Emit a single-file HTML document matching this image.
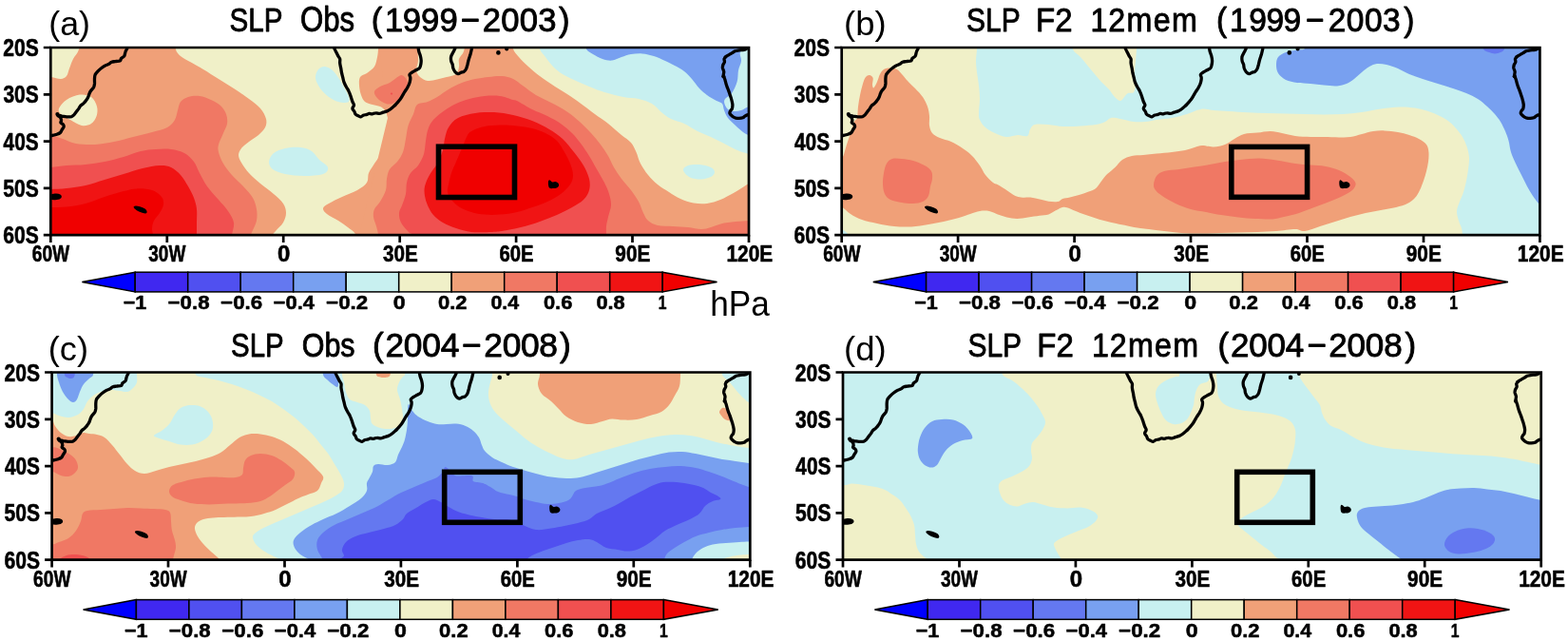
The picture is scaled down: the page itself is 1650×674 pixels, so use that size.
<!DOCTYPE html>
<html lang="en"><head><meta charset="utf-8"><title>SLP anomalies</title>
<style>
html,body{margin:0;padding:0;background:#fff;}
body{width:1650px;height:674px;overflow:hidden;}
svg{display:block;font-family:"Liberation Sans",sans-serif;}
</style></head><body>
<svg width="1650" height="674" viewBox="0 0 1650 674">
<rect width="1650" height="674" fill="#fff"/>
<g id="panel-a">
<clipPath id="clip-a"><rect x="53.3" y="50" width="734.7" height="197.2"/></clipPath>
<g clip-path="url(#clip-a)">
<rect x="53.3" y="50" width="734.7" height="197.2" fill="#f0f0c8"/>
<path fill="#f0a078" d="M185 40C185 42 184.2 48.8 185 52C185.8 55.2 187.5 56.8 190 59C192.5 61.2 196 62.7 200 65C204 67.3 209 70 214 73C219 76 224.7 79.7 230 83C235.3 86.3 240.7 89.5 246 93C251.3 96.5 257.3 100.5 262 104C266.7 107.5 271 110.5 274 114C277 117.5 279.2 121.7 280 125C280.8 128.3 280.3 131.2 279 134C277.7 136.8 274.8 139.5 272 142C269.2 144.5 265 146.7 262 149C259 151.3 255.8 153.7 254 156C252.2 158.3 251 160.5 251 163C251 165.5 252.2 167.8 254 171C255.8 174.2 258.7 178.3 262 182C265.3 185.7 269.7 189.3 274 193C278.3 196.7 284 200.5 288 204C292 207.5 295.8 210.7 298 214C300.2 217.3 301 220.7 301 224C301 227.3 299.8 230.8 298 234C296.2 237.2 291.8 240.8 290 243C288.2 245.2 287.8 244.8 287 247C286.2 249.2 285.3 254.5 285 256L30 270L30 30Z"/>
<path fill="#f0f0c8" d="M83 40C83 42 84 48.3 83 52C82 55.7 78.7 58.7 77 62C75.3 65.3 74.2 69 73 72C71.8 75 71.5 78.2 70 80C68.5 81.8 66.7 82.8 64 83C61.3 83.2 57.6 81.5 53.6 81C49.6 80.5 42.3 80.2 40 80L30 30Z"/>
<path fill="#f0f0c8" d="M62 114C63 111.5 66.3 107.4 70 105C73.7 102.6 79.7 100.1 84 99.6C88.3 99.1 93 99.9 96 102C99 104.1 101.1 108.7 102 112C102.9 115.3 102.6 119 101.6 122C100.6 125 98.6 128.3 96 130C93.4 131.7 89.7 132.7 86 132C82.3 131.3 77.7 128 74 126C70.3 124 66 122 64 120C62 118 61 116.5 62 114Z"/>
<path fill="#f0a078" d="M376 256C375.7 254.3 375.7 248.8 374 246C372.3 243.2 369 241.3 366 239C363 236.7 359.7 234.3 356 232C352.3 229.7 346.7 227.2 344 225C341.3 222.8 339.7 220.8 340 219C340.3 217.2 342.7 216 346 214C349.3 212 355 209.3 360 207C365 204.7 371.7 202.5 376 200C380.3 197.5 384 195 386 192C388 189 386.7 185.3 388 182C389.3 178.7 391.7 175.7 394 172C396.3 168.3 400 164.3 402 160C404 155.7 405.2 150.7 406 146C406.8 141.3 406.7 135.7 407 132C407.3 128.3 408.3 126.7 408 124C407.7 121.3 406.3 118 405 116C403.7 114 402.2 113 400 112C397.8 111 394.7 110.8 392 110C389.3 109.2 386 108.7 384 107C382 105.3 381 102.8 380 100C379 97.2 378.2 93.2 378 90C377.8 86.8 377.7 83.2 379 81C380.3 78.8 383.5 78.8 386 77C388.5 75.2 392.2 72.8 394 70C395.8 67.2 396.3 63.1 397 60C397.7 56.9 397.8 54.9 398 51.6C398.2 48.3 398 41.9 398 40L540 40Z"/>
<path fill="#f0a078" d="M540 40C540 41.9 539 48.3 540 51.6C541 54.9 543.3 56.9 546 60C548.7 63.1 552.3 66.7 556 70C559.7 73.3 563.3 76.5 568 80C572.7 83.5 578.7 87.5 584 91C589.3 94.5 595 97.7 600 101C605 104.3 609.7 107.8 614 111C618.3 114.2 621.7 116.8 626 120C630.3 123.2 635.3 126.3 640 130C644.7 133.7 650 138.7 654 142C658 145.3 661.4 147 664 150C666.6 153 667.8 156.3 669.5 160C671.2 163.7 671.9 168 674 172C676.1 176 679 180.3 682 184C685 187.7 688.3 191 692 194C695.7 197 700 199.5 704 202C708 204.5 711.7 207.1 716 209C720.3 210.9 725.3 212.8 730 213.6C734.7 214.4 739.3 214.6 744 214C748.7 213.4 753.7 211.7 758 210C762.3 208.3 766.3 206 770 204C773.7 202 777 199.8 780 198C783 196.2 784.7 194.7 788 193C791.3 191.3 798 188.8 800 188L800 260L376 256L408 124L398 40Z"/>
<path fill="#f0f0c8" d="M439 40C439.1 42 439.2 48 439.4 52C439.6 56 440.2 60.3 440 64C439.8 67.7 437.7 71.2 438 74C438.3 76.8 440 79.2 442 81C444 82.8 447 84.6 450 85C453 85.4 456.7 84.3 460 83.6C463.3 82.9 466.7 81.9 470 81C473.3 80.1 477.8 79.8 480 78C482.2 76.2 482.5 72.7 483 70C483.5 67.3 482.2 64.7 483 62C483.8 59.3 486.8 57.7 488 54C489.2 50.3 489.7 42.3 490 40Z"/>
<path fill="#f07864" d="M40 140C42.3 140.3 49.3 141 53.6 142C57.9 143 61.6 144.5 66 146C70.4 147.5 74.3 150 80 151C85.7 152 93.3 152.3 100 152C106.7 151.7 113.3 150.3 120 149C126.7 147.7 133.3 145.7 140 144C146.7 142.3 154 140.7 160 139C166 137.3 172 136.2 176 134C180 131.8 182.2 129 184 126C185.8 123 186 119.2 187 116C188 112.8 188.2 109.3 190 107C191.8 104.7 194.7 103 198 102C201.3 101 206 100.5 210 101C214 101.5 218.3 103.3 222 105C225.7 106.7 229.3 108.5 232 111C234.7 113.5 236.8 116.8 238 120C239.2 123.2 239.5 126.7 239 130C238.5 133.3 236.5 136.3 235 140C233.5 143.7 230.8 148.7 230 152C229.2 155.3 229.2 156.7 230 160C230.8 163.3 232.7 168 235 172C237.3 176 240.5 180 244 184C247.5 188 252.3 192 256 196C259.7 200 263.7 204 266 208C268.3 212 269.3 216 270 220C270.7 224 270.7 228.3 270 232C269.3 235.7 267 239.5 266 242C265 244.5 264.7 244.7 264 247C263.3 249.3 262.3 254.5 262 256L30 270Z"/>
<path fill="#f05050" d="M40 177C42.3 176.8 48.6 176.5 53.6 176C58.6 175.5 63.9 174.5 70 174C76.1 173.5 83.3 173.7 90 173C96.7 172.3 103.3 171.3 110 170C116.7 168.7 123.7 166.8 130 165C136.3 163.2 142.3 160.3 148 159C153.7 157.7 158.7 157.3 164 157C169.3 156.7 175 156.3 180 157C185 157.7 190 158.8 194 161C198 163.2 201.3 166.5 204 170C206.7 173.5 207.7 177.7 210 182C212.3 186.3 214.7 191.3 218 196C221.3 200.7 226.3 205.7 230 210C233.7 214.3 237.3 218 240 222C242.7 226 245.3 229.8 246 234C246.7 238.2 244.5 243.3 244 247C243.5 250.7 243.2 254.5 243 256L30 270Z"/>
<path fill="#f01414" d="M40 199.6C42.3 199.5 48.6 199.3 53.6 199C58.6 198.7 63.9 198.7 70 198C76.1 197.3 83.3 196.5 90 195C96.7 193.5 103.3 191 110 189C116.7 187 123.3 185 130 183C136.7 181 143.7 178.5 150 177C156.3 175.5 163 174.2 168 174C173 173.8 176.3 174.3 180 176C183.7 177.7 187 180.7 190 184C193 187.3 195.7 192 198 196C200.3 200 202.5 204 204 208C205.5 212 206.5 215.7 207 220C207.5 224.3 207 229.5 207 234C207 238.5 207 243.3 207 247C207 250.7 207 254.5 207 256L30 270Z"/>
<path fill="#f00000" d="M40 218.4C42.3 218.3 48.6 218.1 53.6 218C58.6 217.9 63.9 218.3 70 217.6C76.1 216.9 83.3 215.8 90 214C96.7 212.2 103.3 209.2 110 207C116.7 204.8 124.3 202.4 130 201C135.7 199.6 139 198.6 144 198.4C149 198.2 155.7 198.6 160 200C164.3 201.4 168 204.5 170 207C172 209.5 172.3 212.2 172 215C171.7 217.8 169.7 221.2 168 224C166.3 226.8 163.3 229.3 162 232C160.7 234.7 160.2 237.5 160 240C159.8 242.5 160.8 244.3 161 247C161.2 249.7 161.3 254.5 161.4 256L30 270Z"/>
<path fill="#f07864" d="M398 256C398 254.5 398.3 250 398 247C397.7 244 396.8 241.2 396 238C395.2 234.8 393.3 231 393 228C392.7 225 392.8 222.7 394 220C395.2 217.3 398 215.3 400 212C402 208.7 404.8 204 406 200C407.2 196 406.3 191.7 407 188C407.7 184.3 408.2 181 410 178C411.8 175 415.7 173 418 170C420.3 167 422.5 164 424 160C425.5 156 426.1 150.7 427 146C427.9 141.3 428.3 136.3 429.6 132C430.9 127.7 433.4 123.7 435 120C436.6 116.3 436.5 112.2 439 110C441.5 107.8 446.5 108.3 450 107C453.5 105.7 456.3 104.2 460 102C463.7 99.8 467.7 96.5 472 94C476.3 91.5 481.3 88.8 486 87C490.7 85.2 495.3 84 500 83C504.7 82 509.3 81.5 514 81C518.7 80.5 523.7 79.7 528 80C532.3 80.3 536.3 81.3 540 83C543.7 84.7 546 87.2 550 90C554 92.8 559 97 564 100C569 103 574.7 105.2 580 108C585.3 110.8 591 113.7 596 117C601 120.3 605.7 124.2 610 128C614.3 131.8 618.3 136 622 140C625.7 144 629 148 632 152C635 156 637.7 160 640 164C642.3 168 643.7 172 646 176C648.3 180 651 184 654 188C657 192 661 196 664 200C667 204 669.8 208 672 212C674.2 216 675.3 220.7 677 224C678.7 227.3 679.5 229.8 682 232C684.5 234.2 687.7 236 692 237C696.3 238 702.7 237.7 708 238C713.3 238.3 719 238.5 724 239C729 239.5 734 241 738 241C742 241 744.3 240 748 239C751.7 238 755.7 236 760 235C764.3 234 769.3 233.5 774 233C778.7 232.5 783.7 232.2 788 232C792.3 231.8 798 231.7 800 231.6L800 260Z"/>
<path fill="#f07864" d="M394 96C394.7 94.2 397.3 92.5 400 91C402.7 89.5 406.7 88.8 410 87C413.3 85.2 417.7 81.2 420 80C422.3 78.8 422.7 78.9 424 79.6C425.3 80.3 427.2 82.1 428 84C428.8 85.9 429.7 88.3 429 91C428.3 93.7 425.8 97.5 424 100C422.2 102.5 420.3 104.4 418 106C415.7 107.6 412.7 109.4 410 109.6C407.3 109.8 404.3 108.3 402 107C399.7 105.7 397.3 103.8 396 102C394.7 100.2 393.3 97.8 394 96Z"/>
<ellipse fill="#f05050" cx="412" cy="98.4" rx="1.2" ry="1" transform="rotate(0 412 98.4)"/>
<path fill="#f05050" d="M434 256C434 254.5 434.7 249 434 247C433.3 245 432 246.2 430 244C428 241.8 423.7 237.3 422 234C420.3 230.7 419.8 227 420 224C420.2 221 421.8 219.3 423 216C424.2 212.7 426.2 208 427 204C427.8 200 427.2 195.7 428 192C428.8 188.3 430 185 432 182C434 179 437.7 177.3 440 174C442.3 170.7 444.7 166.3 446 162C447.3 157.7 447.3 152.3 448 148C448.7 143.7 449.1 139.7 450.4 136C451.7 132.3 453.1 129.3 456 126C458.9 122.7 464 118.8 468 116C472 113.2 475.7 111 480 109C484.3 107 489 105.3 494 104C499 102.7 504.7 101.5 510 101C515.3 100.5 521 100.3 526 101C531 101.7 537 104.2 540 105C543 105.8 540.7 104.3 544 106C547.3 107.7 554.7 112.3 560 115C565.3 117.7 571 119.5 576 122C581 124.5 585.7 127 590 130C594.3 133 598.3 136.3 602 140C605.7 143.7 609 148 612 152C615 156 617.3 159.7 620 164C622.7 168.3 625.3 173.3 628 178C630.7 182.7 633.8 187.7 636 192C638.2 196.3 639.8 200 641 204C642.2 208 643.2 212 643 216C642.8 220 640.8 224.3 640 228C639.2 231.7 638.3 234.8 638 238C637.7 241.2 638 244 638 247C638 250 638 254.5 638 256Z"/>
<path fill="#f01414" d="M468 146C467 150 467.3 153.7 466 158C464.7 162.3 462.3 167.7 460 172C457.7 176.3 454.2 180 452 184C449.8 188 447.8 192.3 447 196C446.2 199.7 446.5 202.7 447 206C447.5 209.3 448.5 212.7 450 216C451.5 219.3 453.3 223 456 226C458.7 229 462 231.7 466 234C470 236.3 475 238.3 480 240C485 241.7 490 243.3 496 244C502 244.7 510.7 244.2 516 244C521.3 243.8 522.7 243.8 528 243C533.3 242.2 541.3 240.7 548 239C554.7 237.3 561.7 235.2 568 233C574.3 230.8 580.3 228.5 586 226C591.7 223.5 597.3 220.7 602 218C606.7 215.3 611 213 614 210C617 207 619 203.7 620 200C621 196.3 621 192.3 620 188C619 183.7 616.7 178.7 614 174C611.3 169.3 607.7 164.7 604 160C600.3 155.3 596.3 150 592 146C587.7 142 583.3 139.2 578 136C572.7 132.8 566.3 129.5 560 127C553.7 124.5 546.7 122.5 540 121C533.3 119.5 526.7 118.3 520 118C513.3 117.7 506.3 118 500 119C493.7 120 486.7 121.5 482 124C477.3 126.5 474.3 130.3 472 134C469.7 137.7 469 142 468 146Z"/>
<path fill="#f00000" d="M492 142C490 145.2 488 151.3 486 156C484 160.7 481.8 165.7 480 170C478.2 174.3 476.3 178 475 182C473.7 186 472.7 190.7 472 194C471.3 197.3 470.5 199.3 471 202C471.5 204.7 472.8 207.3 475 210C477.2 212.7 480.5 215.8 484 218C487.5 220.2 491.7 221.7 496 223C500.3 224.3 505 225.2 510 225.6C515 226 520.3 226 526 225.6C531.7 225.2 538.3 224.3 544 223C549.7 221.7 554.7 219.8 560 218C565.3 216.2 571 214.3 576 212C581 209.7 586 207 590 204C594 201 597.8 197.3 600 194C602.2 190.7 603 187.7 603 184C603 180.3 601.5 176 600 172C598.5 168 596.3 164 594 160C591.7 156 589.3 151.3 586 148C582.7 144.7 578.3 142.2 574 140C569.7 137.8 565 136.3 560 135C555 133.7 549.7 133 544 132.4C538.3 131.8 531.7 131.5 526 131.6C520.3 131.7 514.7 132.1 510 133C505.3 133.9 501 135.5 498 137C495 138.5 494 138.8 492 142Z"/>
<path fill="#c8f0f0" d="M568 40C568 41.9 567 48.3 568 51.6C569 54.9 571.7 56.9 574 60C576.3 63.1 579 67 582 70C585 73 588.3 75.7 592 78C595.7 80.3 599.3 81.8 604 84C608.7 86.2 614.7 88.8 620 91C625.3 93.2 630 95.2 636 97C642 98.8 650 100.8 656 102C662 103.2 667 102.8 672 104C677 105.2 682 106.7 686 109C690 111.3 692.7 115.3 696 118C699.3 120.7 702 123 706 125C710 127 715.3 127.8 720 130C724.7 132.2 729.3 135.7 734 138C738.7 140.3 743 141.7 748 144C753 146.3 759.3 149.7 764 152C768.7 154.3 772 156.3 776 158C780 159.7 784 160.7 788 162C792 163.3 798 165.3 800 166L810 30Z"/>
<path fill="#78a0f0" d="M617 40C617 41.9 615.8 48.8 617 51.6C618.2 54.4 621.2 55.3 624 57C626.8 58.7 630.7 60.9 634 62C637.3 63.1 640.7 63.9 644 63.6C647.3 63.3 650.7 61.1 654 60C657.3 58.9 660.3 57.6 664 57C667.7 56.4 672 56.1 676 56.4C680 56.7 684 57.7 688 59C692 60.3 696.3 62.3 700 64C703.7 65.7 706.7 67.2 710 69C713.3 70.8 717 72.7 720 75C723 77.3 725.3 80 728 83C730.7 86 733.3 90.2 736 93C738.7 95.8 741 97.8 744 100C747 102.2 751.3 104.5 754 106C756.7 107.5 758.7 107.3 760 109C761.3 110.7 761 113.5 762 116C763 118.5 764 121.3 766 124C768 126.7 771.3 129.5 774 132C776.7 134.5 779.7 137.3 782 139C784.3 140.7 785 141.2 788 142C791 142.8 798 143.7 800 144L810 30Z"/>
<path fill="#c8f0f0" d="M800 40C798 41.7 791.5 47.5 788 50C784.5 52.5 780.3 52.7 779 55C777.7 57.3 780.3 60.8 780 64C779.7 67.2 777.7 70.3 777 74C776.3 77.7 776.8 82 775.6 86C774.4 90 772.1 95 770 98C767.9 101 764.3 102.2 763 104C761.7 105.8 761.9 107.2 762.4 109C762.9 110.8 764.4 113.7 766 115C767.6 116.3 769.7 116.8 772 117C774.3 117.2 777.3 116.8 780 116C782.7 115.2 784.7 113 788 112C791.3 111 798 110.3 800 110Z"/>
<path fill="#c8f0f0" d="M332 82C331.7 78.7 333.3 75 335 73C336.7 71 339.5 69.8 342 70C344.5 70.2 347.5 71.8 350 74C352.5 76.2 355 80 357 83C359 86 360.3 88.8 362 92C363.7 95.2 366.3 99.4 367 102C367.7 104.6 367.8 106.8 366 107.6C364.2 108.4 359.3 107.9 356 107C352.7 106.1 349.2 104.3 346 102C342.8 99.7 339.3 96.3 337 93C334.7 89.7 332.3 85.3 332 82Z"/>
<path fill="#c8f0f0" d="M283 170C283.2 167.2 285.2 163.3 288 161C290.8 158.7 295.3 157 300 156C304.7 155 311.3 154.5 316 155C320.7 155.5 324.7 156.8 328 159C331.3 161.2 333.2 165.2 336 168C338.8 170.8 344.3 173.5 345 176C345.7 178.5 344.2 181.5 340 183C335.8 184.5 326.7 185 320 185C313.3 185 305.5 184.2 300 183C294.5 181.8 289.8 180.2 287 178C284.2 175.8 282.8 172.8 283 170Z"/>
<path fill="#c8f0f0" d="M719 179C718.7 176.9 721.2 175 724 174C726.8 173 732 172.7 736 173C740 173.3 745.3 174.7 748 176C750.7 177.3 752 179.3 752 181C752 182.7 750.3 184.8 748 186C745.7 187.2 741.7 188.3 738 188.4C734.3 188.5 729.2 188 726 186.4C722.8 184.8 719.3 181.1 719 179Z"/>
<g transform="translate(0 0)">
<path fill="none" stroke="#000" stroke-width="3.3" stroke-linejoin="round" stroke-linecap="round" d="M134.3 48.8C134.2 49.1 134.3 49.7 133.9 50.7C133.5 51.6 132.5 53.1 132 54.5C131.5 55.8 131.5 57.7 130.8 58.9C130 60 128.3 60.6 127.6 61.4C126.9 62.2 127.3 63.4 126.3 63.9C125.4 64.4 123.4 64.3 121.9 64.5C120.5 64.8 118.8 64.7 117.5 65.2C116.2 65.7 115.5 66.8 114.4 67.4C113.2 68.1 111.8 68.3 110.6 69C109.3 69.6 108 70.5 106.8 71.5C105.6 72.4 104.4 73.5 103.3 74.6C102.2 75.8 100.9 77.1 100.2 78.4C99.6 79.8 99.6 81.3 99.5 82.8C99.4 84.4 99.6 86.4 99.5 87.9C99.3 89.3 99.2 90.5 98.6 91.7C98 92.8 96.8 93.8 96.1 94.8C95.3 95.9 94.7 96.8 94.2 98C93.7 99.1 93.5 100.5 92.9 101.7C92.3 103 91.5 104.4 90.6 105.5C89.8 106.7 88.9 107.7 87.9 108.7C86.9 109.6 85.6 110.3 84.7 111.2C83.9 112.2 83.6 113.3 82.8 114.4C82.1 115.4 81.1 116.5 80.3 117.5C79.5 118.6 78.9 119.8 78 120.7C77.2 121.5 76.6 122.2 75.3 122.6C74 122.9 71.9 123 70.2 122.9C68.5 122.9 66.8 122.4 65.2 122.2C63.6 121.9 61.1 121.1 60.8 121.3C60.4 121.5 62.7 122.4 63.3 123.2C63.9 124.1 64.4 125.4 64.5 126.4C64.7 127.3 63.6 128.2 63.9 128.9C64.2 129.7 65.9 130.1 66.4 130.8C67 131.5 67.3 132.4 67.1 133.3C66.9 134.3 65.8 135.4 65.2 136.5C64.5 137.5 64.3 138.8 63.3 139.6C62.2 140.5 60.3 141 58.9 141.5C57.4 142 55.7 142.3 54.5 142.5C53.2 142.8 51.8 143 51.3 143"/>
<circle cx="60.4" cy="120.1" r="2.1" fill="#000"/>
<path fill="none" stroke="#000" stroke-width="3.3" stroke-linejoin="round" stroke-linecap="round" d="M351.3 48.8C351.5 49.2 351.6 50.3 352 51.3C352.4 52.4 353.2 53.8 353.9 55.1C354.5 56.3 355.1 57.7 355.8 58.9C356.4 60 357.3 60.8 357.7 62C358 63.3 357.5 64.9 357.7 66.4C357.8 68 358.3 69.8 358.7 71.5C359 73.2 359.2 74.8 359.5 76.5C359.9 78.2 360.4 79.9 360.8 81.6C361.2 83.3 361.4 84.9 362.1 86.6C362.7 88.3 363.7 90.1 364.6 91.7C365.4 93.2 366.4 94.5 367.1 96.1C367.8 97.6 368.4 99.3 369 101.1C369.6 102.9 370.3 105.2 370.9 106.8C371.5 108.4 372.5 109.4 372.5 110.6C372.5 111.8 370.8 112.9 370.9 114.1C371 115.3 372.5 116.5 373 117.5C373.6 118.5 373.4 119.3 374 120C374.7 120.8 376.3 121.4 377.2 121.9C378.1 122.4 378.9 123 379.7 122.9C380.6 122.8 381.2 121.7 382.2 121.3C383.3 120.9 385 120.7 386 120.4C387.1 120.1 387.6 119.5 388.5 119.4C389.5 119.3 390.5 119.9 391.7 119.8C392.9 119.7 394.2 118.8 395.5 118.8C396.7 118.7 398 119.5 399.3 119.4C400.5 119.3 401.8 118.5 403.1 118.1C404.3 117.8 405.6 117.7 406.8 117.1C408.1 116.6 409.4 115.9 410.6 115C411.9 114.1 413.2 112.9 414.4 111.8C415.6 110.8 416.5 109.8 417.6 108.7C418.6 107.5 419.8 106.2 420.7 104.9C421.7 103.6 422.4 102.5 423.2 101.1C424.1 99.7 424.9 98.1 425.8 96.7C426.6 95.3 427.5 94.2 428.3 92.9C429 91.7 429.6 90.4 430.2 89.1C430.7 87.9 431.2 86.6 431.4 85.4C431.7 84.1 431.9 82.7 431.8 81.6C431.7 80.4 430.7 79.4 431 78.4C431.4 77.5 432.8 76.7 433.9 75.9C435.1 75.1 436.5 74.5 437.7 73.8C439 73 440.7 72.5 441.5 71.5C442.4 70.5 442.5 69 442.8 67.7C443 66.4 443.2 65.4 443.2 63.9C443.1 62.4 442.8 60.4 442.4 58.9C442 57.3 441.2 55.7 440.9 54.5C440.5 53.2 440.4 52.3 440.3 51.3C440.1 50.4 440 49.2 440 48.8"/>
<path fill="none" stroke="#000" stroke-width="3.3" stroke-linejoin="round" stroke-linecap="round" d="M479.3 48.8C479.2 49.2 479.1 50.3 478.7 51.3C478.3 52.4 477.5 53.7 476.8 55.1C476.1 56.5 475 58 474.7 59.5C474.3 61 474.4 62.5 474.7 63.9C474.9 65.3 475.8 66.4 476.2 67.7C476.5 69 476.4 70.2 476.8 71.5C477.2 72.7 477.9 74.3 478.7 75.3C479.6 76.3 480.8 77.4 481.9 77.5C482.9 77.7 484 76.7 485 76.3C486.1 75.9 487.2 76 488.2 75.3C489.1 74.6 490.1 73.4 490.7 72.1C491.3 70.9 491.5 69.3 492 67.7C492.4 66.1 492.7 64.3 493.2 62.7C493.7 61 494.3 59.5 494.9 57.6C495.4 55.7 496.1 52.8 496.4 51.3C496.7 49.8 496.7 49.2 496.7 48.8"/>
<circle cx="524.4" cy="55.4" r="2.3" fill="#000"/>
<circle cx="533.2" cy="51.6" r="2.0" fill="#000"/>
<path fill="none" stroke="#000" stroke-width="3.3" stroke-linejoin="round" stroke-linecap="round" d="M790.4 50C789.8 50.1 787.9 50.3 786.7 50.7C785.4 51.1 784.3 52 782.9 52.3C781.4 52.7 779.4 52.6 777.8 52.8C776.3 53.1 774.7 53.3 773.4 53.8C772.2 54.3 771.3 55.1 770.3 55.7C769.2 56.3 768.2 57 767.1 57.6C766.1 58.2 764.8 58.8 764 59.5C763.1 60.2 762.3 61.1 762.1 62C761.8 63 762.7 64.1 762.4 65.2C762.2 66.2 761.1 67.3 760.8 68.3C760.5 69.4 760.3 70.3 760.4 71.5C760.6 72.6 761.5 74 761.7 75.3C761.9 76.5 761.2 77.6 761.4 79C761.6 80.5 762.5 82.6 763 84.1C763.4 85.6 763.6 86.6 764 87.9C764.3 89.1 764.8 90.4 765.2 91.7C765.7 92.9 766.3 94.2 766.7 95.4C767.2 96.7 767.6 98 768 99.2C768.4 100.5 768.9 101.7 769.3 103C769.6 104.3 770 105.5 770.3 106.8C770.5 108.1 770.9 109.3 770.9 110.6C770.9 111.8 770.7 113.3 770.3 114.4C769.8 115.4 768.8 116 768.4 116.9C768 117.7 767.7 118.6 768 119.4C768.3 120.2 769.4 121.2 770.3 121.9C771.2 122.7 772.2 123.4 773.4 123.8C774.7 124.2 776.5 124.4 777.8 124.4C779.2 124.4 780.6 124.2 781.6 123.8C782.7 123.4 783.2 122.4 784.1 121.9C785.1 121.4 786.2 121 787.3 120.7C788.3 120.3 789.9 120.1 790.4 120"/>
<circle cx="761.2" cy="80.3" r="2.0" fill="#000"/>
<circle cx="763.3" cy="60.1" r="1.8" fill="#000"/>
<path fill="#000" stroke="#000" stroke-width="1.8" stroke-linejoin="round" d="M141.6 217.6C142 217.2 145.2 217.5 147 218C148.8 218.5 151.3 219.5 152.4 220.4C153.5 221.3 154 223 153.6 223.4C153.2 223.8 151.5 223.3 150 222.8C148.5 222.3 145.8 221.3 144.4 220.4C143 219.5 141.2 218 141.6 217.6Z"/>
<path fill="#000" stroke="#000" stroke-width="1.8" stroke-linejoin="round" d="M53.6 205.6C54.3 204.9 56.4 204.5 58 204.4C59.6 204.3 62.1 204.7 63 205.2C63.9 205.7 64.2 206.9 63.6 207.6C63 208.3 61.3 209 59.6 209.2C57.9 209.4 54.6 209.4 53.6 208.8C52.6 208.2 52.9 206.3 53.6 205.6Z"/>
<path fill="#000" stroke="#000" stroke-width="1.8" stroke-linejoin="round" d="M578 190.4C578.4 189.7 579.8 192.1 581 192.4C582.2 192.7 584 191.7 585 192C586 192.3 587 193.3 587.2 194C587.4 194.7 586.9 195.9 586 196.4C585.1 196.9 583.3 197.2 582 197.2C580.7 197.2 579.1 197.5 578.4 196.4C577.7 195.3 577.6 191.1 578 190.4Z"/>
</g>
<rect x="461.5" y="154.2" width="80" height="53.3" fill="none" stroke="#000" stroke-width="5.6"/>
</g>
<g stroke="#000" stroke-width="2.7" fill="none" stroke-linecap="square">
<path d="M53.3 50H788V247.2H53.3Z"/>
<path stroke-width="2.7" stroke-linecap="butt" d="M45.8 50H53.3M45.8 99.3H53.3M45.8 148.6H53.3M45.8 197.9H53.3M45.8 247.2H53.3M53.3 247.2V255M175.8 247.2V255M298.2 247.2V255M420.7 247.2V255M543.1 247.2V255M665.5 247.2V255M788 247.2V255"/>
</g>
<g stroke="#000" stroke-width="0.6" stroke-linejoin="round">
<text transform="translate(3.16 59.00) scale(0.8446 1.0000)" font-size="25.00" font-weight="bold" fill="#000">20S</text>
<text transform="translate(3.38 108.30) scale(0.8397 1.0000)" font-size="25.00" font-weight="bold" fill="#000">30S</text>
<text transform="translate(3.59 157.60) scale(0.8348 1.0000)" font-size="25.00" font-weight="bold" fill="#000">40S</text>
<text transform="translate(3.27 206.90) scale(0.8421 1.0000)" font-size="25.00" font-weight="bold" fill="#000">50S</text>
<text transform="translate(3.16 256.20) scale(0.8446 1.0000)" font-size="25.00" font-weight="bold" fill="#000">60S</text>
<text transform="translate(33.73 275.20) scale(0.7776 1.0000)" font-size="24.70" font-weight="bold" fill="#000">60W</text>
<text transform="translate(156.27 275.20) scale(0.7698 1.0000)" font-size="24.70" font-weight="bold" fill="#000">30W</text>
<text transform="translate(292.04 275.20) scale(0.9717 1.0000)" font-size="24.70" font-weight="bold" fill="#000">0</text>
<text transform="translate(402.88 275.20) scale(0.8380 1.0000)" font-size="24.70" font-weight="bold" fill="#000">30E</text>
<text transform="translate(525.39 275.20) scale(0.8216 1.0000)" font-size="24.70" font-weight="bold" fill="#000">60E</text>
<text transform="translate(647.37 275.20) scale(0.8430 1.0000)" font-size="24.70" font-weight="bold" fill="#000">90E</text>
<text transform="translate(764.45 275.20) scale(0.8459 1.0000)" font-size="24.70" font-weight="bold" fill="#000">120E</text>
</g>
<g stroke="#000" stroke-width="1.5" stroke-linejoin="miter">
<path fill="#0000ff" d="M142.2 286.2L86.4 296.5L142.2 306.9Z"/>
<rect fill="#4028f0" x="142.2" y="286.2" width="55.5" height="20.7"/>
<rect fill="#5050f0" x="197.7" y="286.2" width="55.5" height="20.7"/>
<rect fill="#6478f0" x="253.2" y="286.2" width="55.5" height="20.7"/>
<rect fill="#78a0f0" x="308.7" y="286.2" width="55.5" height="20.7"/>
<rect fill="#c8f0f0" x="364.2" y="286.2" width="55.5" height="20.7"/>
<rect fill="#f0f0c8" x="419.7" y="286.2" width="55.5" height="20.7"/>
<rect fill="#f0a078" x="475.2" y="286.2" width="55.5" height="20.7"/>
<rect fill="#f07864" x="530.7" y="286.2" width="55.5" height="20.7"/>
<rect fill="#f05050" x="586.2" y="286.2" width="55.5" height="20.7"/>
<rect fill="#f01414" x="641.7" y="286.2" width="55.5" height="20.7"/>
<path fill="#f00000" d="M697.2 286.2L754.5 296.5L697.2 306.9Z"/>
</g>
<g stroke="#000" stroke-width="0.5" stroke-linejoin="round">
<text transform="translate(129.74 325.20) scale(1.0684 1.0000)" font-size="20.20" font-weight="bold" fill="#000">−1</text>
<text transform="translate(176.61 325.20) scale(1.1018 1.0000)" font-size="20.20" font-weight="bold" fill="#000">−0.8</text>
<text transform="translate(232.11 325.20) scale(1.1047 1.0000)" font-size="20.20" font-weight="bold" fill="#000">−0.6</text>
<text transform="translate(287.62 325.20) scale(1.0876 1.0000)" font-size="20.20" font-weight="bold" fill="#000">−0.4</text>
<text transform="translate(343.11 325.20) scale(1.1077 1.0000)" font-size="20.20" font-weight="bold" fill="#000">−0.2</text>
<text transform="translate(413.87 325.20) scale(1.1464 1.0000)" font-size="20.20" font-weight="bold" fill="#000">0</text>
<text transform="translate(460.92 325.20) scale(1.0884 1.0000)" font-size="20.20" font-weight="bold" fill="#000">0.2</text>
<text transform="translate(516.44 325.20) scale(1.0600 1.0000)" font-size="20.20" font-weight="bold" fill="#000">0.4</text>
<text transform="translate(571.92 325.20) scale(1.0842 1.0000)" font-size="20.20" font-weight="bold" fill="#000">0.6</text>
<text transform="translate(627.43 325.20) scale(1.0801 1.0000)" font-size="20.20" font-weight="bold" fill="#000">0.8</text>
<text transform="translate(692.86 325.20) scale(0.7794 1.0000)" font-size="20.20" font-weight="bold" fill="#000">1</text>
</g>
<text transform="translate(51.25 36.60) scale(1.0234 1.0000)" font-size="35.00" font-weight="normal" fill="#000">(a)</text>
<g stroke="#000" stroke-width="0.9" stroke-linejoin="round">
<text transform="translate(0 33.20) scale(0.8233 1)" x="293.3 317.3 337.3" font-size="36.00" font-weight="normal" fill="#000">SLP</text>
<text transform="translate(0 33.20) scale(0.8658 1)" x="364.9 392.9 412.9" font-size="36.00" font-weight="normal" fill="#000">Obs</text>
<text transform="translate(0 33.20) scale(0.9628 1)" x="405.8 420.6 440.2 460.2 480.3 503.6 527.4 547.7 567.9 588.2 610.6" font-size="36.00" font-weight="normal" fill="#000">(1999−2003)</text>
</g>
</g>
<g id="panel-b">
<clipPath id="clip-b"><rect x="885.7" y="50" width="734.7" height="197.2"/></clipPath>
<g clip-path="url(#clip-b)">
<rect x="885.7" y="50" width="734.7" height="197.2" fill="#f0f0c8"/>
<path fill="#c8f0f0" d="M1028 40C1028 42 1028.2 48 1028 52C1027.8 56 1027 60 1027 64C1027 68 1027.5 71.7 1028 76C1028.5 80.3 1029.5 85.3 1030 90C1030.5 94.7 1031 99.3 1031 104C1031 108.7 1030 114.3 1030 118C1030 121.7 1029.8 123.3 1031 126C1032.2 128.7 1034.3 131.7 1037 134C1039.7 136.3 1043.3 138.3 1047 140C1050.7 141.7 1055 143.7 1059 144C1063 144.3 1067.3 142.2 1071 142C1074.7 141.8 1078.8 144 1081 143C1083.2 142 1082.7 138 1084 136C1085.3 134 1085.8 131.8 1089 131C1092.2 130.2 1098 130.7 1103 131C1108 131.3 1113.3 132.8 1119 133C1124.7 133.2 1131.3 132.7 1137 132.4C1142.7 132.1 1148.7 131.7 1153 131C1157.3 130.3 1160.3 129.2 1163 128C1165.7 126.8 1166.3 124.5 1169 124C1171.7 123.5 1175 124.3 1179 125C1183 125.7 1188.7 127.5 1193 128C1197.3 128.5 1201 128.3 1205 128C1209 127.7 1212.3 126.7 1217 126C1221.7 125.3 1227.7 125 1233 124C1238.3 123 1244.3 121.4 1249 120C1253.7 118.6 1258 116.5 1261 115.6C1264 114.7 1264.3 114.3 1267 114.4C1269.7 114.5 1272.7 115.6 1277 116C1281.3 116.4 1287 116.6 1293 117C1299 117.4 1306.3 117.9 1313 118.2C1319.7 118.5 1326.3 118.8 1333 119C1339.7 119.2 1346.3 119.4 1353 119.6C1359.7 119.8 1366.3 119.9 1373 120C1379.7 120.1 1386.3 120.4 1393 120.4C1399.7 120.4 1406.3 120.4 1413 120C1419.7 119.6 1426.3 118.9 1433 118C1439.7 117.1 1446.3 115.3 1453 114.4C1459.7 113.5 1467 112.5 1473 112.4C1479 112.3 1484 112.8 1489 113.6C1494 114.4 1498.7 115.6 1503 117C1507.3 118.4 1511.3 120.2 1515 122C1518.7 123.8 1522 125.7 1525 128C1528 130.3 1530.7 133.3 1533 136C1535.3 138.7 1537.2 141 1539 144C1540.8 147 1542.3 150.3 1543.5 154C1544.7 157.7 1545.8 162 1546 166C1546.2 170 1545.5 174 1545 178C1544.5 182 1543.8 186 1543 190C1542.2 194 1541.2 198.3 1540 202C1538.8 205.7 1537.2 208.7 1536 212C1534.8 215.3 1533.2 218.7 1533 222C1532.8 225.3 1534.2 229 1535 232C1535.8 235 1537.3 237.5 1538 240C1538.7 242.5 1538.7 244.3 1539 247C1539.3 249.7 1539.8 254.5 1540 256L1650 270L1650 30Z"/>
<path fill="#f0f0c8" d="M1129 40C1129 42 1127.7 48.7 1129 52C1130.3 55.3 1134 56.7 1137 60C1140 63.3 1143.7 68 1147 72C1150.3 76 1153.7 80.3 1157 84C1160.3 87.7 1164.3 91 1167 94C1169.7 97 1171 100 1173 102C1175 104 1177.3 106 1179 106C1180.7 106 1181.7 103.3 1183 102C1184.3 100.7 1185.3 98.8 1187 98C1188.7 97.2 1191.7 98.7 1193 97C1194.3 95.3 1194.8 91.5 1195 88C1195.2 84.5 1194 80 1194 76C1194 72 1194.7 68 1195 64C1195.3 60 1195.8 56 1196 52C1196.2 48 1196 42 1196 40Z"/>
<path fill="#78a0f0" d="M1373 40C1373 41.8 1374.3 48.9 1373 51C1371.7 53.1 1368.3 51.7 1365 52.4C1361.7 53.1 1356.3 53.7 1353 55C1349.7 56.3 1346.7 57.8 1345 60C1343.3 62.2 1343 65.2 1343 68C1343 70.8 1343.3 74.3 1345 77C1346.7 79.7 1349.7 82.3 1353 84C1356.3 85.7 1360.7 86.3 1365 87C1369.3 87.7 1374.3 87.6 1379 88C1383.7 88.4 1388.3 89.2 1393 89.6C1397.7 90 1403 90.7 1407 90.4C1411 90.1 1414 89.2 1417 88C1420 86.8 1422.3 85 1425 83C1427.7 81 1430.3 78.2 1433 76C1435.7 73.8 1438.3 71.5 1441 70C1443.7 68.5 1446 67.3 1449 67C1452 66.7 1455.3 67.2 1459 68C1462.7 68.8 1467 70.3 1471 72C1475 73.7 1478.7 76.2 1483 78C1487.3 79.8 1492 81.3 1497 83C1502 84.7 1507.7 86.3 1513 88C1518.3 89.7 1524 91.3 1529 93C1534 94.7 1538.7 96.2 1543 98C1547.3 99.8 1551.3 101.7 1555 104C1558.7 106.3 1562 109.3 1565 112C1568 114.7 1570.7 117.3 1573 120C1575.3 122.7 1577.2 125 1579 128C1580.8 131 1582.6 134.7 1584 138C1585.4 141.3 1586.5 144.3 1587.5 148C1588.5 151.7 1588.8 156 1590 160C1591.2 164 1593.2 168 1595 172C1596.8 176 1599 180 1601 184C1603 188 1605 192.3 1607 196C1609 199.7 1611 203 1613 206C1615 209 1617.7 212.3 1619 214C1620.3 215.7 1618.7 215 1621 216C1623.3 217 1631 219.3 1633 220L1650 30Z"/>
<path fill="#6478f0" d="M1561 40C1561 41.9 1560 49.1 1561 51.6C1562 54.1 1565 54.2 1567 55C1569 55.8 1571 56.4 1573 56.4C1575 56.4 1577.3 55.8 1579 55C1580.7 54.2 1582.3 54.1 1583 51.6C1583.7 49.1 1583 41.9 1583 40Z"/>
<path fill="#f0a078" d="M885 167C885.4 166.5 886.4 166.5 887.4 164C888.4 161.5 889.7 156 891 152C892.3 148 893.7 144 895 140C896.3 136 897.8 130.7 899 128C900.2 125.3 901.3 126.7 902 124C902.7 121.3 902.5 116 903 112C903.5 108 904.2 104 905 100C905.8 96 907 91.2 908 88C909 84.8 909.8 82.5 911 81C912.2 79.5 913.7 78.8 915 79C916.3 79.2 918.1 80.3 918.6 82C919.1 83.7 917.9 87.3 918 89C918.1 90.7 918.6 92.9 919.4 92.4C920.2 91.9 921.9 88.4 923 86C924.1 83.6 924.8 80.2 926 78C927.2 75.8 928.2 74.1 930 73C931.8 71.9 934.7 71.6 937 71.6C939.3 71.6 942 71.9 944 73C946 74.1 947.2 76 949 78C950.8 80 952.7 82.5 955 85C957.3 87.5 960.3 90.2 963 93C965.7 95.8 968.8 98.8 971 102C973.2 105.2 974.8 108.7 976 112C977.2 115.3 977.7 118.7 978 122C978.3 125.3 977.5 129 978 132C978.5 135 979.2 137.8 981 140C982.8 142.2 985.7 143.5 989 145C992.3 146.5 997 147.2 1001 149C1005 150.8 1009.3 153.5 1013 156C1016.7 158.5 1020 161 1023 164C1026 167 1028.7 170.7 1031 174C1033.3 177.3 1034.7 181 1037 184C1039.3 187 1042.8 190.3 1045 192C1047.2 193.7 1047.4 192.9 1050 194.3C1052.6 195.8 1057.1 198.7 1060.7 200.9C1064.2 203 1067.2 205.9 1071.4 207C1075.5 208.2 1081.6 207.3 1085.6 207.7C1089.6 208.2 1092.1 209.1 1095.1 209.8C1098.1 210.4 1100.4 211.4 1103.4 211.8C1106.4 212.2 1110.4 212.6 1112.9 212.1C1115.4 211.7 1116.1 209.7 1118.2 208.9C1120.4 208.1 1123.1 208 1125.9 207.4C1128.8 206.7 1132.3 205.9 1135.4 205C1138.6 204.1 1142 203 1144.9 201.8C1147.9 200.6 1150.9 199.8 1153.2 197.9C1155.6 195.9 1157.2 192.6 1159.2 190.2C1161.2 187.7 1162.7 185.4 1165.1 183.1C1167.5 180.7 1170.8 178.4 1173.4 175.9C1176.1 173.4 1178.1 170 1181 168C1183.9 166 1187.3 164.8 1191 164C1194.7 163.2 1198.7 163.4 1203 163C1207.3 162.6 1212 162.1 1217 161.6C1222 161.1 1228 160.6 1233 160C1238 159.4 1243 158.8 1247 158C1251 157.2 1254 155.8 1257 155C1260 154.2 1261.7 153.1 1265 153C1268.3 152.9 1273 154.6 1277 154.4C1281 154.2 1285.3 153.4 1289 152C1292.7 150.6 1295.7 147.8 1299 146C1302.3 144.2 1305 142.1 1309 141C1313 139.9 1318.3 140.1 1323 139.6C1327.7 139.1 1332.7 137.9 1337 138C1341.3 138.1 1344.7 139.2 1349 140C1353.3 140.8 1358 142.3 1363 143C1368 143.7 1374 143.8 1379 144C1384 144.2 1388 143.9 1393 144C1398 144.1 1404.3 144.4 1409 144.4C1413.7 144.4 1417 144.6 1421 144C1425 143.4 1429 142 1433 141C1437 140 1441 138.6 1445 138C1449 137.4 1452.7 137.2 1457 137.4C1461.3 137.6 1466.7 138.2 1471 139C1475.3 139.8 1479.3 140.8 1483 142C1486.7 143.2 1490 144.3 1493 146C1496 147.7 1499.3 149.7 1501 152C1502.7 154.3 1503.1 157 1503.4 160C1503.7 163 1503.4 166.7 1503 170C1502.6 173.3 1501.8 176.7 1501 180C1500.2 183.3 1499.2 186.7 1498 190C1496.8 193.3 1495.5 197 1494 200C1492.5 203 1491.2 205.7 1489 208C1486.8 210.3 1484.3 212.3 1481 214C1477.7 215.7 1473.7 216.8 1469 218C1464.3 219.2 1458.3 220 1453 221C1447.7 222 1442.3 222.8 1437 224C1431.7 225.2 1426.3 226.5 1421 228C1415.7 229.5 1410.3 231.3 1405 233C1399.7 234.7 1394.3 236.3 1389 238C1383.7 239.7 1377.3 242.5 1373 243C1368.7 243.5 1368 241 1363 241C1358 241 1349.7 242.5 1343 243C1336.3 243.5 1329.7 243.8 1323 244C1316.3 244.2 1309.7 244.2 1303 244.4C1296.3 244.6 1289.7 244.8 1283 245C1276.3 245.2 1269.7 245.6 1263 245.6C1256.3 245.6 1249.3 245.4 1243 245C1236.7 244.6 1230.7 243.7 1225 243C1219.3 242.3 1213.2 241.5 1209 241C1204.8 240.5 1203.7 240.6 1200 240C1196.2 239.4 1190.7 238.2 1186.5 237.4C1182.2 236.6 1178.6 235.9 1174.6 235C1170.6 234.2 1166.7 233.3 1162.7 232.3C1158.8 231.3 1154.8 230 1150.9 228.7C1146.9 227.5 1142.8 226.2 1139 224.8C1135.2 223.4 1131.3 221.6 1128.3 220.4C1125.4 219.3 1123.2 218.4 1121.2 218.1C1119.2 217.7 1118.2 217.8 1116.5 218.4C1114.7 219 1112.7 220.4 1110.5 221.6C1108.3 222.8 1106.2 224.7 1103.4 225.5C1100.6 226.4 1097.5 226.2 1093.9 226.7C1090.3 227.2 1086 227.8 1082 228.4C1078.1 228.9 1073.9 229.9 1070.2 229.9C1066.4 229.9 1062.9 229.1 1059.5 228.4C1056.1 227.7 1053.1 226.6 1050 225.5C1046.9 224.5 1044.2 222.6 1041 222C1037.8 221.4 1034.3 221.5 1031 222C1027.7 222.5 1024.7 223.8 1021 225C1017.3 226.2 1013.7 227.7 1009 229C1004.3 230.3 998.3 231.8 993 233C987.7 234.2 982.7 235.1 977 236C971.3 236.9 965 238.1 959 238.4C953 238.7 947 238.6 941 238C935 237.4 928.7 236.2 923 235C917.3 233.8 911.7 232.7 907 231C902.3 229.3 898.4 227.2 895 225C891.6 222.8 888.9 219.8 886.6 218C884.3 216.2 881.9 214.7 881 214Z"/>
<path fill="#f07864" d="M929 194C928.8 190.3 929.3 185.7 930 182C930.7 178.3 931.5 174.5 933 172C934.5 169.5 936.3 167.8 939 167C941.7 166.2 945.3 166.7 949 167C952.7 167.3 957 167.8 961 169C965 170.2 969.8 172.2 973 174C976.2 175.8 978.7 177.7 980 180C981.3 182.3 981.2 185.3 981 188C980.8 190.7 979.7 193 979 196C978.3 199 978.3 203.3 977 206C975.7 208.7 973.7 210.7 971 212C968.3 213.3 964.7 213.8 961 214C957.3 214.2 953 213.7 949 213C945 212.3 940 211.5 937 210C934 208.5 932.3 206.7 931 204C929.7 201.3 929.2 197.7 929 194Z"/>
<path fill="#f07864" d="M1214 194C1214.2 191.5 1215.2 187.3 1217 185C1218.8 182.7 1221 181.2 1225 180C1229 178.8 1235.7 178.7 1241 178C1246.3 177.3 1251.7 176.4 1257 175.6C1262.3 174.8 1267.7 173.9 1273 173C1278.3 172.1 1283.7 170.8 1289 170C1294.3 169.2 1299 168.6 1305 168C1311 167.4 1318.7 166.3 1325 166.4C1331.3 166.5 1336.7 167.5 1343 168.4C1349.3 169.3 1357 171.1 1363 172C1369 172.9 1373.7 173.1 1379 173.6C1384.3 174.1 1390 174.1 1395 175C1400 175.9 1404.7 177.2 1409 179C1413.3 180.8 1418.1 183.7 1421 186C1423.9 188.3 1426.3 190.7 1426.6 193C1426.9 195.3 1425.3 197.8 1423 200C1420.7 202.2 1417 204 1413 206C1409 208 1404 210 1399 212C1394 214 1388.3 216 1383 218C1377.7 220 1372.3 222.3 1367 224C1361.7 225.7 1355.7 226.9 1351 228C1346.3 229.1 1344 230.1 1339 230.4C1334 230.7 1327 230.3 1321 230C1315 229.7 1309 229.1 1303 228.4C1297 227.7 1290.7 226.9 1285 226C1279.3 225.1 1274.3 224 1269 223C1263.7 222 1258.3 221.5 1253 220C1247.7 218.5 1242 216.3 1237 214C1232 211.7 1226.5 208.3 1223 206C1219.5 203.7 1217.5 202 1216 200C1214.5 198 1213.8 196.5 1214 194Z"/>
<path fill="#c8f0f0" d="M885 241C885.7 241.3 887.7 242 889 243C890.3 244 892.2 245.5 893 247C893.8 248.5 893.8 251.2 894 252L880 250Z"/>
<g transform="translate(832.4 0)">
<path fill="none" stroke="#000" stroke-width="3.3" stroke-linejoin="round" stroke-linecap="round" d="M134.3 48.8C134.2 49.1 134.3 49.7 133.9 50.7C133.5 51.6 132.5 53.1 132 54.5C131.5 55.8 131.5 57.7 130.8 58.9C130 60 128.3 60.6 127.6 61.4C126.9 62.2 127.3 63.4 126.3 63.9C125.4 64.4 123.4 64.3 121.9 64.5C120.5 64.8 118.8 64.7 117.5 65.2C116.2 65.7 115.5 66.8 114.4 67.4C113.2 68.1 111.8 68.3 110.6 69C109.3 69.6 108 70.5 106.8 71.5C105.6 72.4 104.4 73.5 103.3 74.6C102.2 75.8 100.9 77.1 100.2 78.4C99.6 79.8 99.6 81.3 99.5 82.8C99.4 84.4 99.6 86.4 99.5 87.9C99.3 89.3 99.2 90.5 98.6 91.7C98 92.8 96.8 93.8 96.1 94.8C95.3 95.9 94.7 96.8 94.2 98C93.7 99.1 93.5 100.5 92.9 101.7C92.3 103 91.5 104.4 90.6 105.5C89.8 106.7 88.9 107.7 87.9 108.7C86.9 109.6 85.6 110.3 84.7 111.2C83.9 112.2 83.6 113.3 82.8 114.4C82.1 115.4 81.1 116.5 80.3 117.5C79.5 118.6 78.9 119.8 78 120.7C77.2 121.5 76.6 122.2 75.3 122.6C74 122.9 71.9 123 70.2 122.9C68.5 122.9 66.8 122.4 65.2 122.2C63.6 121.9 61.1 121.1 60.8 121.3C60.4 121.5 62.7 122.4 63.3 123.2C63.9 124.1 64.4 125.4 64.5 126.4C64.7 127.3 63.6 128.2 63.9 128.9C64.2 129.7 65.9 130.1 66.4 130.8C67 131.5 67.3 132.4 67.1 133.3C66.9 134.3 65.8 135.4 65.2 136.5C64.5 137.5 64.3 138.8 63.3 139.6C62.2 140.5 60.3 141 58.9 141.5C57.4 142 55.7 142.3 54.5 142.5C53.2 142.8 51.8 143 51.3 143"/>
<circle cx="60.4" cy="120.1" r="2.1" fill="#000"/>
<path fill="none" stroke="#000" stroke-width="3.3" stroke-linejoin="round" stroke-linecap="round" d="M351.3 48.8C351.5 49.2 351.6 50.3 352 51.3C352.4 52.4 353.2 53.8 353.9 55.1C354.5 56.3 355.1 57.7 355.8 58.9C356.4 60 357.3 60.8 357.7 62C358 63.3 357.5 64.9 357.7 66.4C357.8 68 358.3 69.8 358.7 71.5C359 73.2 359.2 74.8 359.5 76.5C359.9 78.2 360.4 79.9 360.8 81.6C361.2 83.3 361.4 84.9 362.1 86.6C362.7 88.3 363.7 90.1 364.6 91.7C365.4 93.2 366.4 94.5 367.1 96.1C367.8 97.6 368.4 99.3 369 101.1C369.6 102.9 370.3 105.2 370.9 106.8C371.5 108.4 372.5 109.4 372.5 110.6C372.5 111.8 370.8 112.9 370.9 114.1C371 115.3 372.5 116.5 373 117.5C373.6 118.5 373.4 119.3 374 120C374.7 120.8 376.3 121.4 377.2 121.9C378.1 122.4 378.9 123 379.7 122.9C380.6 122.8 381.2 121.7 382.2 121.3C383.3 120.9 385 120.7 386 120.4C387.1 120.1 387.6 119.5 388.5 119.4C389.5 119.3 390.5 119.9 391.7 119.8C392.9 119.7 394.2 118.8 395.5 118.8C396.7 118.7 398 119.5 399.3 119.4C400.5 119.3 401.8 118.5 403.1 118.1C404.3 117.8 405.6 117.7 406.8 117.1C408.1 116.6 409.4 115.9 410.6 115C411.9 114.1 413.2 112.9 414.4 111.8C415.6 110.8 416.5 109.8 417.6 108.7C418.6 107.5 419.8 106.2 420.7 104.9C421.7 103.6 422.4 102.5 423.2 101.1C424.1 99.7 424.9 98.1 425.8 96.7C426.6 95.3 427.5 94.2 428.3 92.9C429 91.7 429.6 90.4 430.2 89.1C430.7 87.9 431.2 86.6 431.4 85.4C431.7 84.1 431.9 82.7 431.8 81.6C431.7 80.4 430.7 79.4 431 78.4C431.4 77.5 432.8 76.7 433.9 75.9C435.1 75.1 436.5 74.5 437.7 73.8C439 73 440.7 72.5 441.5 71.5C442.4 70.5 442.5 69 442.8 67.7C443 66.4 443.2 65.4 443.2 63.9C443.1 62.4 442.8 60.4 442.4 58.9C442 57.3 441.2 55.7 440.9 54.5C440.5 53.2 440.4 52.3 440.3 51.3C440.1 50.4 440 49.2 440 48.8"/>
<path fill="none" stroke="#000" stroke-width="3.3" stroke-linejoin="round" stroke-linecap="round" d="M479.3 48.8C479.2 49.2 479.1 50.3 478.7 51.3C478.3 52.4 477.5 53.7 476.8 55.1C476.1 56.5 475 58 474.7 59.5C474.3 61 474.4 62.5 474.7 63.9C474.9 65.3 475.8 66.4 476.2 67.7C476.5 69 476.4 70.2 476.8 71.5C477.2 72.7 477.9 74.3 478.7 75.3C479.6 76.3 480.8 77.4 481.9 77.5C482.9 77.7 484 76.7 485 76.3C486.1 75.9 487.2 76 488.2 75.3C489.1 74.6 490.1 73.4 490.7 72.1C491.3 70.9 491.5 69.3 492 67.7C492.4 66.1 492.7 64.3 493.2 62.7C493.7 61 494.3 59.5 494.9 57.6C495.4 55.7 496.1 52.8 496.4 51.3C496.7 49.8 496.7 49.2 496.7 48.8"/>
<circle cx="524.4" cy="55.4" r="2.3" fill="#000"/>
<circle cx="533.2" cy="51.6" r="2.0" fill="#000"/>
<path fill="none" stroke="#000" stroke-width="3.3" stroke-linejoin="round" stroke-linecap="round" d="M790.4 50C789.8 50.1 787.9 50.3 786.7 50.7C785.4 51.1 784.3 52 782.9 52.3C781.4 52.7 779.4 52.6 777.8 52.8C776.3 53.1 774.7 53.3 773.4 53.8C772.2 54.3 771.3 55.1 770.3 55.7C769.2 56.3 768.2 57 767.1 57.6C766.1 58.2 764.8 58.8 764 59.5C763.1 60.2 762.3 61.1 762.1 62C761.8 63 762.7 64.1 762.4 65.2C762.2 66.2 761.1 67.3 760.8 68.3C760.5 69.4 760.3 70.3 760.4 71.5C760.6 72.6 761.5 74 761.7 75.3C761.9 76.5 761.2 77.6 761.4 79C761.6 80.5 762.5 82.6 763 84.1C763.4 85.6 763.6 86.6 764 87.9C764.3 89.1 764.8 90.4 765.2 91.7C765.7 92.9 766.3 94.2 766.7 95.4C767.2 96.7 767.6 98 768 99.2C768.4 100.5 768.9 101.7 769.3 103C769.6 104.3 770 105.5 770.3 106.8C770.5 108.1 770.9 109.3 770.9 110.6C770.9 111.8 770.7 113.3 770.3 114.4C769.8 115.4 768.8 116 768.4 116.9C768 117.7 767.7 118.6 768 119.4C768.3 120.2 769.4 121.2 770.3 121.9C771.2 122.7 772.2 123.4 773.4 123.8C774.7 124.2 776.5 124.4 777.8 124.4C779.2 124.4 780.6 124.2 781.6 123.8C782.7 123.4 783.2 122.4 784.1 121.9C785.1 121.4 786.2 121 787.3 120.7C788.3 120.3 789.9 120.1 790.4 120"/>
<circle cx="761.2" cy="80.3" r="2.0" fill="#000"/>
<circle cx="763.3" cy="60.1" r="1.8" fill="#000"/>
<path fill="#000" stroke="#000" stroke-width="1.8" stroke-linejoin="round" d="M141.6 217.6C142 217.2 145.2 217.5 147 218C148.8 218.5 151.3 219.5 152.4 220.4C153.5 221.3 154 223 153.6 223.4C153.2 223.8 151.5 223.3 150 222.8C148.5 222.3 145.8 221.3 144.4 220.4C143 219.5 141.2 218 141.6 217.6Z"/>
<path fill="#000" stroke="#000" stroke-width="1.8" stroke-linejoin="round" d="M53.6 205.6C54.3 204.9 56.4 204.5 58 204.4C59.6 204.3 62.1 204.7 63 205.2C63.9 205.7 64.2 206.9 63.6 207.6C63 208.3 61.3 209 59.6 209.2C57.9 209.4 54.6 209.4 53.6 208.8C52.6 208.2 52.9 206.3 53.6 205.6Z"/>
<path fill="#000" stroke="#000" stroke-width="1.8" stroke-linejoin="round" d="M578 190.4C578.4 189.7 579.8 192.1 581 192.4C582.2 192.7 584 191.7 585 192C586 192.3 587 193.3 587.2 194C587.4 194.7 586.9 195.9 586 196.4C585.1 196.9 583.3 197.2 582 197.2C580.7 197.2 579.1 197.5 578.4 196.4C577.7 195.3 577.6 191.1 578 190.4Z"/>
</g>
<rect x="1295.8" y="154.4" width="79.8" height="52.9" fill="none" stroke="#000" stroke-width="5.6"/>
</g>
<g stroke="#000" stroke-width="2.7" fill="none" stroke-linecap="square">
<path d="M885.7 50H1620.4V247.2H885.7Z"/>
<path stroke-width="2.7" stroke-linecap="butt" d="M878.2 50H885.7M878.2 99.3H885.7M878.2 148.6H885.7M878.2 197.9H885.7M878.2 247.2H885.7M885.7 247.2V255M1008.1 247.2V255M1130.6 247.2V255M1253 247.2V255M1375.5 247.2V255M1498 247.2V255M1620.4 247.2V255"/>
</g>
<g stroke="#000" stroke-width="0.6" stroke-linejoin="round">
<text transform="translate(835.56 59.00) scale(0.8446 1.0000)" font-size="25.00" font-weight="bold" fill="#000">20S</text>
<text transform="translate(835.78 108.30) scale(0.8397 1.0000)" font-size="25.00" font-weight="bold" fill="#000">30S</text>
<text transform="translate(835.99 157.60) scale(0.8348 1.0000)" font-size="25.00" font-weight="bold" fill="#000">40S</text>
<text transform="translate(835.67 206.90) scale(0.8421 1.0000)" font-size="25.00" font-weight="bold" fill="#000">50S</text>
<text transform="translate(835.56 256.20) scale(0.8446 1.0000)" font-size="25.00" font-weight="bold" fill="#000">60S</text>
<text transform="translate(866.13 275.20) scale(0.7776 1.0000)" font-size="24.70" font-weight="bold" fill="#000">60W</text>
<text transform="translate(988.67 275.20) scale(0.7698 1.0000)" font-size="24.70" font-weight="bold" fill="#000">30W</text>
<text transform="translate(1124.44 275.20) scale(0.9717 1.0000)" font-size="24.70" font-weight="bold" fill="#000">0</text>
<text transform="translate(1235.28 275.20) scale(0.8380 1.0000)" font-size="24.70" font-weight="bold" fill="#000">30E</text>
<text transform="translate(1357.79 275.20) scale(0.8216 1.0000)" font-size="24.70" font-weight="bold" fill="#000">60E</text>
<text transform="translate(1479.77 275.20) scale(0.8430 1.0000)" font-size="24.70" font-weight="bold" fill="#000">90E</text>
<text transform="translate(1596.85 275.20) scale(0.8459 1.0000)" font-size="24.70" font-weight="bold" fill="#000">120E</text>
</g>
<g stroke="#000" stroke-width="1.5" stroke-linejoin="miter">
<path fill="#0000ff" d="M974.6 286.2L918.8 296.5L974.6 306.9Z"/>
<rect fill="#4028f0" x="974.6" y="286.2" width="55.5" height="20.7"/>
<rect fill="#5050f0" x="1030.1" y="286.2" width="55.5" height="20.7"/>
<rect fill="#6478f0" x="1085.6" y="286.2" width="55.5" height="20.7"/>
<rect fill="#78a0f0" x="1141.1" y="286.2" width="55.5" height="20.7"/>
<rect fill="#c8f0f0" x="1196.6" y="286.2" width="55.5" height="20.7"/>
<rect fill="#f0f0c8" x="1252.1" y="286.2" width="55.5" height="20.7"/>
<rect fill="#f0a078" x="1307.6" y="286.2" width="55.5" height="20.7"/>
<rect fill="#f07864" x="1363.1" y="286.2" width="55.5" height="20.7"/>
<rect fill="#f05050" x="1418.6" y="286.2" width="55.5" height="20.7"/>
<rect fill="#f01414" x="1474.1" y="286.2" width="55.5" height="20.7"/>
<path fill="#f00000" d="M1529.6 286.2L1586.9 296.5L1529.6 306.9Z"/>
</g>
<g stroke="#000" stroke-width="0.5" stroke-linejoin="round">
<text transform="translate(962.14 325.20) scale(1.0684 1.0000)" font-size="20.20" font-weight="bold" fill="#000">−1</text>
<text transform="translate(1009.01 325.20) scale(1.1018 1.0000)" font-size="20.20" font-weight="bold" fill="#000">−0.8</text>
<text transform="translate(1064.51 325.20) scale(1.1047 1.0000)" font-size="20.20" font-weight="bold" fill="#000">−0.6</text>
<text transform="translate(1120.02 325.20) scale(1.0876 1.0000)" font-size="20.20" font-weight="bold" fill="#000">−0.4</text>
<text transform="translate(1175.51 325.20) scale(1.1077 1.0000)" font-size="20.20" font-weight="bold" fill="#000">−0.2</text>
<text transform="translate(1246.27 325.20) scale(1.1464 1.0000)" font-size="20.20" font-weight="bold" fill="#000">0</text>
<text transform="translate(1293.32 325.20) scale(1.0884 1.0000)" font-size="20.20" font-weight="bold" fill="#000">0.2</text>
<text transform="translate(1348.84 325.20) scale(1.0600 1.0000)" font-size="20.20" font-weight="bold" fill="#000">0.4</text>
<text transform="translate(1404.32 325.20) scale(1.0842 1.0000)" font-size="20.20" font-weight="bold" fill="#000">0.6</text>
<text transform="translate(1459.83 325.20) scale(1.0801 1.0000)" font-size="20.20" font-weight="bold" fill="#000">0.8</text>
<text transform="translate(1525.26 325.20) scale(0.7794 1.0000)" font-size="20.20" font-weight="bold" fill="#000">1</text>
</g>
<text transform="translate(888.01 36.60) scale(1.0442 1.0000)" font-size="35.00" font-weight="normal" fill="#000">(b)</text>
<g stroke="#000" stroke-width="0.9" stroke-linejoin="round">
<text transform="translate(0 32.90) scale(0.8326 1)" x="1221.5 1245.5 1265.5" font-size="36.00" font-weight="normal" fill="#000">SLP</text>
<text transform="translate(0 32.90) scale(0.9152 1)" x="1191.0 1213.0" font-size="36.00" font-weight="normal" fill="#000">F2</text>
<text transform="translate(0 32.90) scale(0.8951 1)" x="1282.0 1303.0 1324.5 1355.9 1377.4" font-size="36.00" font-weight="normal" fill="#000">12mem</text>
<text transform="translate(0 32.90) scale(0.9305 1)" x="1375.5 1390.6 1412.3 1431.9 1451.4 1476.5 1502.1 1522.7 1543.3 1563.8 1587.6" font-size="36.00" font-weight="normal" fill="#000">(1999−2003)</text>
</g>
</g>
<g id="panel-c">
<clipPath id="clip-c"><rect x="54.6" y="391.5" width="734.7" height="197.2"/></clipPath>
<g clip-path="url(#clip-c)">
<rect x="54.6" y="391.5" width="734.7" height="197.2" fill="#c8f0f0"/>
<path fill="#f0f0c8" d="M206 382C206 384 204.3 391.5 206 394C207.7 396.5 212 396 216 397C220 398 225.3 398.8 230 400C234.7 401.2 239.3 402.5 244 404C248.7 405.5 253.3 407.2 258 409C262.7 410.8 267.3 412.8 272 415C276.7 417.2 281.7 419.5 286 422C290.3 424.5 294 427.2 298 430C302 432.8 306.3 436 310 439C313.7 442 316.7 444.8 320 448C323.3 451.2 327 454.7 330 458C333 461.3 335.3 464.7 338 468C340.7 471.3 343.7 474.7 346 478C348.3 481.3 350 484.7 352 488C354 491.3 356.3 494.7 358 498C359.7 501.3 361.7 505 362 508C362.3 511 361.7 513.7 360 516C358.3 518.3 355.3 520 352 522C348.7 524 344.3 526 340 528C335.7 530 330.7 532 326 534C321.3 536 316.7 538 312 540C307.3 542 302.7 544 298 546C293.3 548 288.3 550 284 552C279.7 554 275 556 272 558C269 560 266.5 561.7 266 564C265.5 566.3 267.2 569.5 269 572C270.8 574.5 273.8 576.8 277 579C280.2 581.2 284.5 583.2 288 585C291.5 586.8 295.3 587.8 298 590C300.7 592.2 303 596.7 304 598L30 620L30 370Z"/>
<path fill="#c8f0f0" d="M40 434.4C42.3 434.3 49.9 433.6 53.6 434C57.3 434.4 58.9 436.2 62 437C65.1 437.8 68.7 439.2 72 439C75.3 438.8 79.3 437.5 82 436C84.7 434.5 86.3 432.3 88 430C89.7 427.7 90.3 424.3 92 422C93.7 419.7 95.7 417.7 98 416C100.3 414.3 103 413 106 412C109 411 112.7 410.2 116 410C119.3 409.8 123 410.7 126 411C129 411.3 131.7 412.5 134 412C136.3 411.5 138.3 409.7 140 408C141.7 406.3 143.3 404.3 144 402C144.7 399.7 144 397.3 144 394C144 390.7 144 384 144 382L30 370Z"/>
<path fill="#78a0f0" d="M60 382C60 384 59.7 390.7 60 394C60.3 397.3 61 399 62 402C63 405 64.3 409 66 412C67.7 415 70.2 418.2 72 420C73.8 421.8 75.5 423 77 423C78.5 423 79.8 421.8 81 420C82.2 418.2 82.8 414.7 84 412C85.2 409.3 86.3 406.3 88 404C89.7 401.7 92.3 399.7 94 398C95.7 396.3 97.3 396.7 98 394C98.7 391.3 98 384 98 382Z"/>
<path fill="#6478f0" d="M68 382C68 384 67.5 391.5 68 394C68.5 396.5 69.8 396.3 71 397C72.2 397.7 73.8 398.3 75 398C76.2 397.7 77.8 397.7 78.5 395C79.2 392.3 78.9 384.2 79 382Z"/>
<path fill="#c8f0f0" d="M162 458C162.3 456.7 167.3 455 170 453C172.7 451 175.7 448.8 178 446C180.3 443.2 182 438.8 184 436C186 433.2 187.3 430.7 190 429C192.7 427.3 196.7 426.3 200 426C203.3 425.7 207 426 210 427C213 428 215.8 429.8 218 432C220.2 434.2 222 437 223 440C224 443 224.5 447 224 450C223.5 453 222 455.7 220 458C218 460.3 215 462.4 212 464C209 465.6 205.7 467 202 467.6C198.3 468.2 194 468.2 190 467.6C186 467 181.7 465.1 178 464C174.3 462.9 170.7 462 168 461C165.3 460 161.7 459.3 162 458Z"/>
<path fill="#f0f0c8" d="M360 382C360 384 359.7 390.7 360 394C360.3 397.3 361.3 399 362 402C362.7 405 363 409 364 412C365 415 366 418.2 368 420C370 421.8 373.3 422 376 423C378.7 424 381.8 424.5 384 426C386.2 427.5 388 429.7 389 432C390 434.3 389.5 437.7 390 440C390.5 442.3 390.3 444.3 392 446C393.7 447.7 397 449.2 400 450C403 450.8 406.7 451.3 410 451C413.3 450.7 417.7 449.8 420 448C422.3 446.2 423.5 443 424 440C424.5 437 423.5 433.3 423 430C422.5 426.7 421.8 423.3 421 420C420.2 416.7 418.2 413 418 410C417.8 407 419 404.3 420 402C421 399.7 423 397.3 424 396C425 394.7 425.7 396.3 426 394C426.3 391.7 426 384 426 382Z"/>
<path fill="#f0a078" d="M396 382C396 384 395.3 391.6 396 394C396.7 396.4 398.5 395.9 400 396.4C401.5 396.9 403.2 397.3 405 397C406.8 396.7 409.5 397 410.5 394.5C411.5 392 410.9 384.1 411 382Z"/>
<path fill="#78a0f0" d="M340 382C340 384 339.3 391.2 340 394C340.7 396.8 342.3 397.3 344 399C345.7 400.7 348.2 402.7 350 404C351.8 405.3 354 407.3 355 407C356 406.7 356.2 404.2 356 402C355.8 399.8 354.3 397.3 354 394C353.7 390.7 354 384 354 382Z"/>
<path fill="#f0f0c8" d="M518 382C518 384 518.3 390.7 518 394C517.7 397.3 516.7 399 516 402C515.3 405 514.2 408.7 514 412C513.8 415.3 514 418.7 515 422C516 425.3 517.5 428.7 520 432C522.5 435.3 526.3 438.7 530 442C533.7 445.3 538 448.7 542 452C546 455.3 550 459 554 462C558 465 561.7 467.5 566 470C570.3 472.5 575.7 475 580 477C584.3 479 588 481 592 482C596 483 599.3 483.7 604 483C608.7 482.3 614.3 479.7 620 478C625.7 476.3 632 474.7 638 473C644 471.3 650 469.7 656 468C662 466.3 668 464.5 674 463C680 461.5 686 460 692 459C698 458 704.3 457.2 710 457C715.7 456.8 721 457.3 726 458C731 458.7 735.3 459.8 740 461C744.7 462.2 749.3 463.8 754 465C758.7 466.2 763.7 467.2 768 468C772.3 468.8 776.7 469.5 780 470C783.3 470.5 784.7 470.7 788 471C791.3 471.3 798 471.8 800 472L810 370Z"/>
<path fill="#c8f0f0" d="M760 382C760 384 758.7 390.7 760 394C761.3 397.3 765.3 399 768 402C770.7 405 773.3 409 776 412C778.7 415 782 418.2 784 420C786 421.8 785.3 421.7 788 423C790.7 424.3 798 427.2 800 428L810 370Z"/>
<path fill="#f0a078" d="M568 382C568 384 568.3 390.3 568 394C567.7 397.7 565.7 400.7 566 404C566.3 407.3 567.7 411 570 414C572.3 417 577 419.3 580 422C583 424.7 585.3 427.3 588 430C590.7 432.7 592.7 435.7 596 438C599.3 440.3 603.7 442.7 608 444C612.3 445.3 617.7 446.2 622 446C626.3 445.8 630.3 443.9 634 443C637.7 442.1 640.3 440.6 644 440.4C647.7 440.2 651.7 441.5 656 441.6C660.3 441.7 665.3 441.8 670 441C674.7 440.2 679.7 438.3 684 437C688.3 435.7 692.7 434.8 696 433C699.3 431.2 701.7 428.8 704 426C706.3 423.2 708.2 419.3 710 416C711.8 412.7 714 409.7 715 406C716 402.3 715.8 398 716 394C716.2 390 716 384 716 382Z"/>
<path fill="#f0a078" d="M757 433C757.2 431.7 758.8 429.5 760 429C761.2 428.5 762.7 428.8 764 430C765.3 431.2 767.3 434 768 436C768.7 438 768.8 441.2 768 442C767.2 442.8 764.5 441.8 763 441C761.5 440.2 760 438.3 759 437C758 435.7 756.8 434.3 757 433Z"/>
<path fill="#f0a078" d="M40 438C42.3 438.3 50.6 438.3 53.6 440C56.6 441.7 56.3 445.5 58 448C59.7 450.5 61.7 453.2 64 455C66.3 456.8 69.3 458.5 72 459C74.7 459.5 77.3 458.7 80 458C82.7 457.3 85.7 455.3 88 455C90.3 454.7 91.7 455.7 94 456C96.3 456.3 99.3 456.3 102 457C104.7 457.7 107.3 458.2 110 460C112.7 461.8 115.3 465 118 468C120.7 471 123.3 474.7 126 478C128.7 481.3 131.3 485.2 134 488C136.7 490.8 139 493.3 142 495C145 496.7 148.3 498 152 498C155.7 498 159.7 496.2 164 495C168.3 493.8 173.3 492.2 178 491C182.7 489.8 187.3 489 192 488C196.7 487 201.3 486.2 206 485C210.7 483.8 215.7 482.5 220 481C224.3 479.5 228.3 478.2 232 476C235.7 473.8 238.7 470.7 242 468C245.3 465.3 248.7 461.9 252 460C255.3 458.1 258.3 457 262 456.4C265.7 455.8 270 456 274 456.4C278 456.8 282 457.7 286 459C290 460.3 294 461.8 298 464C302 466.2 306 469 310 472C314 475 318.3 478.7 322 482C325.7 485.3 329 488.8 332 492C335 495.2 339 498.3 340 501C341 503.7 339 505.5 338 508C337 510.5 336.3 514 334 516C331.7 518 327.3 518.7 324 520C320.7 521.3 317.7 522.3 314 524C310.3 525.7 306 528 302 530C298 532 294 534.3 290 536C286 537.7 282.3 538.8 278 540C273.7 541.2 268.7 542.4 264 543C259.3 543.6 254.7 543.4 250 543.6C245.3 543.8 240.3 543.9 236 544C231.7 544.1 227.7 544.1 224 544.4C220.3 544.7 216.8 545.1 214 546C211.2 546.9 208.5 548.3 207 550C205.5 551.7 204.8 553.7 205 556C205.2 558.3 206.5 561.3 208 564C209.5 566.7 211.7 569.3 214 572C216.3 574.7 219.3 577.5 222 580C224.7 582.5 228.3 585 230 587C231.7 589 231.5 590.2 232 592C232.5 593.8 232.8 597 233 598L30 620Z"/>
<path fill="#f07864" d="M40 469C42.3 469.2 50.3 469.7 53.6 470C56.9 470.3 57.9 470.3 60 471C62.1 471.7 63.7 472.8 66 474C68.3 475.2 71.7 476.3 74 478C76.3 479.7 78.7 481.7 80 484C81.3 486.3 82.3 489.7 82 492C81.7 494.3 79.7 496.5 78 498C76.3 499.5 74.3 500.7 72 501C69.7 501.3 66.3 500.7 64 500C61.7 499.3 59.7 497.7 58 497C56.3 496.3 56.6 496.2 53.6 496C50.6 495.8 42.3 496 40 496Z"/>
<path fill="#f07864" d="M178 516C178.2 514 179.3 511.7 182 510C184.7 508.3 189.7 507.2 194 506C198.3 504.8 203.3 503.7 208 503C212.7 502.3 217.3 501.8 222 501.6C226.7 501.4 231.7 501.9 236 502C240.3 502.1 244.8 502.5 248 502C251.2 501.5 253.7 500.7 255 499C256.3 497.3 255.5 494.5 256 492C256.5 489.5 256.7 486.2 258 484C259.3 481.8 261.3 480.2 264 479C266.7 477.8 270.3 477 274 477C277.7 477 282.3 477.8 286 479C289.7 480.2 293 482.2 296 484C299 485.8 301.7 488 304 490C306.3 492 309.3 493.7 310 496C310.7 498.3 309.7 501.7 308 504C306.3 506.3 302.7 508 300 510C297.3 512 294.7 514 292 516C289.3 518 287 520.2 284 522C281 523.8 278 525.8 274 527C270 528.2 265.7 528.6 260 529C254.3 529.4 246.7 529.4 240 529.6C233.3 529.8 226 530.4 220 530.4C214 530.4 209 530.3 204 529.6C199 528.9 193.8 527.3 190 526C186.2 524.7 183 523.7 181 522C179 520.3 177.8 518 178 516Z"/>
<path fill="#f07864" d="M40 574C42.3 573.8 49.9 573.7 53.6 573C57.3 572.3 58.9 571.2 62 570C65.1 568.8 69 568 72 566C75 564 77.8 561 80 558C82.2 555 83.8 551 85 548C86.2 545 85.8 541.8 87 540C88.2 538.2 88.8 537.7 92 537C95.2 536.3 101.3 536.3 106 536C110.7 535.7 115.3 535.3 120 535C124.7 534.7 129.3 534.1 134 534C138.7 533.9 143.3 534.2 148 534.4C152.7 534.6 157.7 534.7 162 535C166.3 535.3 171.2 535.3 174 536C176.8 536.7 178 537 179 539C180 541 179.7 544.8 180 548C180.3 551.2 180.3 554.7 181 558C181.7 561.3 183.3 565 184 568C184.7 571 185.2 573.3 185 576C184.8 578.7 183.7 581.3 183 584C182.3 586.7 181.5 589.7 181 592C180.5 594.3 180.2 597 180 598L30 620Z"/>
<path fill="#f05050" d="M62 598C62 596.5 60.7 591.3 62 589C63.3 586.7 67 585 70 584C73 583 76.7 582.8 80 583C83.3 583.2 87.5 584 90 585C92.5 586 94 586.8 95 589C96 591.2 95.8 596.5 96 598Z"/>
<path fill="#78a0f0" d="M332 598C331 596.5 328.7 591.5 326 589C323.3 586.5 318.7 585.2 316 583C313.3 580.8 311.2 578.5 310 576C308.8 573.5 308 570.7 309 568C310 565.3 312.8 562.7 316 560C319.2 557.3 324 554.3 328 552C332 549.7 335.7 548 340 546C344.3 544 349.3 542.3 354 540C358.7 537.7 363.7 534.7 368 532C372.3 529.3 377 526.7 380 524C383 521.3 385 518.7 386 516C387 513.3 385.5 510.3 386 508C386.5 505.7 388 504 389 502C390 500 391.3 498 392 496C392.7 494 392 491.3 393 490C394 488.7 395.5 488.2 398 488C400.5 487.8 405 489.3 408 489C411 488.7 414.2 487.8 416 486C417.8 484.2 417.8 480.7 419 478C420.2 475.3 421.8 472.7 423 470C424.2 467.3 425.2 465 426 462C426.8 459 427.5 455.3 428 452C428.5 448.7 428.8 445.3 429 442C429.2 438.7 428.8 434.8 429 432C429.2 429.2 429.2 425 430 425C430.8 425 432.3 429.8 434 432C435.7 434.2 437.3 436.2 440 438C442.7 439.8 446.7 441.7 450 443C453.3 444.3 456.7 445.5 460 446C463.3 446.5 466.7 446.1 470 446C473.3 445.9 476.7 445.3 480 445.6C483.3 445.9 487 446.8 490 448C493 449.2 495.7 451 498 453C500.3 455 502.5 457.5 504 460C505.5 462.5 506 465.7 507 468C508 470.3 508.2 471.8 510 474C511.8 476.2 515 479 518 481C521 483 524.3 484.3 528 486C531.7 487.7 536.3 489.7 540 491C543.7 492.3 546 492.8 550 494C554 495.2 559 496.7 564 498C569 499.3 574.7 500.8 580 501.6C585.3 502.4 591 502.9 596 503C601 503.1 605.3 502.8 610 502C614.7 501.2 619 499.5 624 498C629 496.5 634.7 494.7 640 493C645.3 491.3 650.7 489.7 656 488C661.3 486.3 666.7 484.5 672 483C677.3 481.5 682.7 480.2 688 479C693.3 477.8 699 476.3 704 475.6C709 474.9 713.3 474.8 718 475C722.7 475.2 727.3 476.2 732 477C736.7 477.8 741.3 479 746 480C750.7 481 755.3 482.2 760 483C764.7 483.8 769.3 484.3 774 485C778.7 485.7 783.7 486.5 788 487C792.3 487.5 798 487.8 800 488L810 620Z"/>
<path fill="#6478f0" d="M342 598C341.7 596.5 341.3 592.3 340 589C338.7 585.7 335 581.5 334 578C333 574.5 333 571 334 568C335 565 337 562.7 340 560C343 557.3 347.7 554.3 352 552C356.3 549.7 361.3 548 366 546C370.7 544 375.3 542 380 540C384.7 538 389.3 536.3 394 534C398.7 531.7 403.3 528.7 408 526C412.7 523.3 417.3 520.3 422 518C426.7 515.7 431.3 514 436 512C440.7 510 446 507.7 450 506C454 504.3 457.3 503.7 460 502C462.7 500.3 464.5 497.8 466 496C467.5 494.2 467 490.4 469 491C471 491.6 475.5 498 478 499.6C480.5 501.2 480.8 500.3 484 500.4C487.2 500.5 494.7 499.5 497 500.4C499.3 501.3 496.2 504.7 498 506C499.8 507.3 505 507 508 508C511 509 513.3 510.5 516 512C518.7 513.5 520.7 515.7 524 517C527.3 518.3 532.7 519.2 536 520C539.3 520.8 541.3 521.2 544 522C546.7 522.8 548.7 524 552 525C555.3 526 560 527.2 564 528C568 528.8 572 529.8 576 530C580 530.2 584.3 529.7 588 529C591.7 528.3 595.7 527.2 598 526C600.3 524.8 600.7 523.7 602 522C603.3 520.3 603.7 517.5 606 516C608.3 514.5 612 513.8 616 513C620 512.2 626 511.8 630 511C634 510.2 636.3 509.3 640 508C643.7 506.7 647.3 504.8 652 503C656.7 501.2 662.7 498.7 668 497C673.3 495.3 678.7 494 684 493C689.3 492 694.7 491.5 700 491C705.3 490.5 710.7 489.8 716 490C721.3 490.2 727 491 732 492C737 493 741.3 494.5 746 496C750.7 497.5 755.7 499.3 760 501C764.3 502.7 768.3 504.5 772 506C775.7 507.5 779.3 509 782 510C784.7 511 785 511 788 512C791 513 798 515.3 800 516L810 620Z"/>
<path fill="#78a0f0" d="M699 598C699 596.5 698.5 591.7 699 589C699.5 586.3 700.2 584.2 702 582C703.8 579.8 707 578 710 576C713 574 716.3 572 720 570C723.7 568 727.7 565.7 732 564C736.3 562.3 741.3 561.2 746 560C750.7 558.8 755.3 557.8 760 557C764.7 556.2 769.3 555.5 774 555C778.7 554.5 783.7 554.2 788 554C792.3 553.8 798 553.7 800 553.6L810 620Z"/>
<path fill="#c8f0f0" d="M728 598C728 596.5 727.3 591.7 728 589C728.7 586.3 730 584.2 732 582C734 579.8 737 577.6 740 576C743 574.4 746 573.2 750 572.4C754 571.6 759.3 571.4 764 571C768.7 570.6 774 570.2 778 570C782 569.8 784.3 569.7 788 569.6C791.7 569.5 798 569.3 800 569.2L810 620Z"/>
<path fill="#f0f0c8" d="M760 598C760 596.5 758.7 591.1 760 589C761.3 586.9 764.7 586.5 768 585.6C771.3 584.7 776.7 584 780 583.6C783.3 583.2 784.7 583.2 788 583C791.3 582.8 798 582.5 800 582.4L810 620Z"/>
<path fill="#5050f0" d="M366 598C334.3 595.7 363 587.3 362 584C361 580.7 359.7 580.3 360 578C360.3 575.7 361.7 572.3 364 570C366.3 567.7 370 565.7 374 564C378 562.3 383 561.3 388 560C393 558.7 399.3 557.3 404 556C408.7 554.7 412.7 553.7 416 552C419.3 550.3 422 548 424 546C426 544 425.7 542 428 540C430.3 538 434.7 536 438 534C441.3 532 445 529.5 448 528C451 526.5 453.3 525 456 525C458.7 525 461.3 526.7 464 528C466.7 529.3 469 531.3 472 533C475 534.7 478.7 536.7 482 538C485.3 539.3 488.3 540.1 492 541C495.7 541.9 499.3 542.8 504 543.6C508.7 544.4 514.7 545.5 520 546C525.3 546.5 531 545.4 536 546.4C541 547.4 545.3 550.2 550 552C554.7 553.8 559 556.4 564 557C569 557.6 575 556.3 580 555.6C585 554.9 589.3 553.9 594 553C598.7 552.1 603.7 551.2 608 550C612.3 548.8 616.7 547.7 620 546C623.3 544.3 624.7 541.8 628 540C631.3 538.2 636 536.8 640 535C644 533.2 648 531.2 652 529C656 526.8 660 524.2 664 522C668 519.8 672 518 676 516C680 514 684.3 511.5 688 510C691.7 508.5 694 507.5 698 507C702 506.5 707 506.6 712 507C717 507.4 723.3 508.6 728 509.6C732.7 510.6 736.7 511.6 740 513C743.3 514.4 745.3 516.5 748 518C750.7 519.5 754.3 520.8 756 522C757.7 523.2 759 524.2 758 525C757 525.8 752.7 525.8 750 527C747.3 528.2 744.3 529.8 742 532C739.7 534.2 738.7 537.7 736 540C733.3 542.3 730 544 726 546C722 548 716.3 550 712 552C707.7 554 703.7 555.7 700 558C696.3 560.3 693.3 563.5 690 566C686.7 568.5 683.3 571 680 573C676.7 575 673.3 576.9 670 578C666.7 579.1 663.3 579.6 660 579.6C656.7 579.6 653.7 578.6 650 578C646.3 577.4 641.7 577.3 638 576C634.3 574.7 631 571.5 628 570C625 568.5 623.3 567.3 620 567C616.7 566.7 612 567.3 608 568C604 568.7 600 569.8 596 571C592 572.2 588 573.7 584 575C580 576.3 576 577.5 572 579C568 580.5 563 582.3 560 584C557 585.7 555.3 586.7 554 589C552.7 591.3 583.3 596.5 552 598C520.7 599.5 397.7 600.3 366 598Z"/>
<g transform="translate(1.3 341.5)">
<path fill="none" stroke="#000" stroke-width="3.3" stroke-linejoin="round" stroke-linecap="round" d="M134.3 48.8C134.2 49.1 134.3 49.7 133.9 50.7C133.5 51.6 132.5 53.1 132 54.5C131.5 55.8 131.5 57.7 130.8 58.9C130 60 128.3 60.6 127.6 61.4C126.9 62.2 127.3 63.4 126.3 63.9C125.4 64.4 123.4 64.3 121.9 64.5C120.5 64.8 118.8 64.7 117.5 65.2C116.2 65.7 115.5 66.8 114.4 67.4C113.2 68.1 111.8 68.3 110.6 69C109.3 69.6 108 70.5 106.8 71.5C105.6 72.4 104.4 73.5 103.3 74.6C102.2 75.8 100.9 77.1 100.2 78.4C99.6 79.8 99.6 81.3 99.5 82.8C99.4 84.4 99.6 86.4 99.5 87.9C99.3 89.3 99.2 90.5 98.6 91.7C98 92.8 96.8 93.8 96.1 94.8C95.3 95.9 94.7 96.8 94.2 98C93.7 99.1 93.5 100.5 92.9 101.7C92.3 103 91.5 104.4 90.6 105.5C89.8 106.7 88.9 107.7 87.9 108.7C86.9 109.6 85.6 110.3 84.7 111.2C83.9 112.2 83.6 113.3 82.8 114.4C82.1 115.4 81.1 116.5 80.3 117.5C79.5 118.6 78.9 119.8 78 120.7C77.2 121.5 76.6 122.2 75.3 122.6C74 122.9 71.9 123 70.2 122.9C68.5 122.9 66.8 122.4 65.2 122.2C63.6 121.9 61.1 121.1 60.8 121.3C60.4 121.5 62.7 122.4 63.3 123.2C63.9 124.1 64.4 125.4 64.5 126.4C64.7 127.3 63.6 128.2 63.9 128.9C64.2 129.7 65.9 130.1 66.4 130.8C67 131.5 67.3 132.4 67.1 133.3C66.9 134.3 65.8 135.4 65.2 136.5C64.5 137.5 64.3 138.8 63.3 139.6C62.2 140.5 60.3 141 58.9 141.5C57.4 142 55.7 142.3 54.5 142.5C53.2 142.8 51.8 143 51.3 143"/>
<circle cx="60.4" cy="120.1" r="2.1" fill="#000"/>
<path fill="none" stroke="#000" stroke-width="3.3" stroke-linejoin="round" stroke-linecap="round" d="M351.3 48.8C351.5 49.2 351.6 50.3 352 51.3C352.4 52.4 353.2 53.8 353.9 55.1C354.5 56.3 355.1 57.7 355.8 58.9C356.4 60 357.3 60.8 357.7 62C358 63.3 357.5 64.9 357.7 66.4C357.8 68 358.3 69.8 358.7 71.5C359 73.2 359.2 74.8 359.5 76.5C359.9 78.2 360.4 79.9 360.8 81.6C361.2 83.3 361.4 84.9 362.1 86.6C362.7 88.3 363.7 90.1 364.6 91.7C365.4 93.2 366.4 94.5 367.1 96.1C367.8 97.6 368.4 99.3 369 101.1C369.6 102.9 370.3 105.2 370.9 106.8C371.5 108.4 372.5 109.4 372.5 110.6C372.5 111.8 370.8 112.9 370.9 114.1C371 115.3 372.5 116.5 373 117.5C373.6 118.5 373.4 119.3 374 120C374.7 120.8 376.3 121.4 377.2 121.9C378.1 122.4 378.9 123 379.7 122.9C380.6 122.8 381.2 121.7 382.2 121.3C383.3 120.9 385 120.7 386 120.4C387.1 120.1 387.6 119.5 388.5 119.4C389.5 119.3 390.5 119.9 391.7 119.8C392.9 119.7 394.2 118.8 395.5 118.8C396.7 118.7 398 119.5 399.3 119.4C400.5 119.3 401.8 118.5 403.1 118.1C404.3 117.8 405.6 117.7 406.8 117.1C408.1 116.6 409.4 115.9 410.6 115C411.9 114.1 413.2 112.9 414.4 111.8C415.6 110.8 416.5 109.8 417.6 108.7C418.6 107.5 419.8 106.2 420.7 104.9C421.7 103.6 422.4 102.5 423.2 101.1C424.1 99.7 424.9 98.1 425.8 96.7C426.6 95.3 427.5 94.2 428.3 92.9C429 91.7 429.6 90.4 430.2 89.1C430.7 87.9 431.2 86.6 431.4 85.4C431.7 84.1 431.9 82.7 431.8 81.6C431.7 80.4 430.7 79.4 431 78.4C431.4 77.5 432.8 76.7 433.9 75.9C435.1 75.1 436.5 74.5 437.7 73.8C439 73 440.7 72.5 441.5 71.5C442.4 70.5 442.5 69 442.8 67.7C443 66.4 443.2 65.4 443.2 63.9C443.1 62.4 442.8 60.4 442.4 58.9C442 57.3 441.2 55.7 440.9 54.5C440.5 53.2 440.4 52.3 440.3 51.3C440.1 50.4 440 49.2 440 48.8"/>
<path fill="none" stroke="#000" stroke-width="3.3" stroke-linejoin="round" stroke-linecap="round" d="M479.3 48.8C479.2 49.2 479.1 50.3 478.7 51.3C478.3 52.4 477.5 53.7 476.8 55.1C476.1 56.5 475 58 474.7 59.5C474.3 61 474.4 62.5 474.7 63.9C474.9 65.3 475.8 66.4 476.2 67.7C476.5 69 476.4 70.2 476.8 71.5C477.2 72.7 477.9 74.3 478.7 75.3C479.6 76.3 480.8 77.4 481.9 77.5C482.9 77.7 484 76.7 485 76.3C486.1 75.9 487.2 76 488.2 75.3C489.1 74.6 490.1 73.4 490.7 72.1C491.3 70.9 491.5 69.3 492 67.7C492.4 66.1 492.7 64.3 493.2 62.7C493.7 61 494.3 59.5 494.9 57.6C495.4 55.7 496.1 52.8 496.4 51.3C496.7 49.8 496.7 49.2 496.7 48.8"/>
<circle cx="524.4" cy="55.4" r="2.3" fill="#000"/>
<circle cx="533.2" cy="51.6" r="2.0" fill="#000"/>
<path fill="none" stroke="#000" stroke-width="3.3" stroke-linejoin="round" stroke-linecap="round" d="M790.4 50C789.8 50.1 787.9 50.3 786.7 50.7C785.4 51.1 784.3 52 782.9 52.3C781.4 52.7 779.4 52.6 777.8 52.8C776.3 53.1 774.7 53.3 773.4 53.8C772.2 54.3 771.3 55.1 770.3 55.7C769.2 56.3 768.2 57 767.1 57.6C766.1 58.2 764.8 58.8 764 59.5C763.1 60.2 762.3 61.1 762.1 62C761.8 63 762.7 64.1 762.4 65.2C762.2 66.2 761.1 67.3 760.8 68.3C760.5 69.4 760.3 70.3 760.4 71.5C760.6 72.6 761.5 74 761.7 75.3C761.9 76.5 761.2 77.6 761.4 79C761.6 80.5 762.5 82.6 763 84.1C763.4 85.6 763.6 86.6 764 87.9C764.3 89.1 764.8 90.4 765.2 91.7C765.7 92.9 766.3 94.2 766.7 95.4C767.2 96.7 767.6 98 768 99.2C768.4 100.5 768.9 101.7 769.3 103C769.6 104.3 770 105.5 770.3 106.8C770.5 108.1 770.9 109.3 770.9 110.6C770.9 111.8 770.7 113.3 770.3 114.4C769.8 115.4 768.8 116 768.4 116.9C768 117.7 767.7 118.6 768 119.4C768.3 120.2 769.4 121.2 770.3 121.9C771.2 122.7 772.2 123.4 773.4 123.8C774.7 124.2 776.5 124.4 777.8 124.4C779.2 124.4 780.6 124.2 781.6 123.8C782.7 123.4 783.2 122.4 784.1 121.9C785.1 121.4 786.2 121 787.3 120.7C788.3 120.3 789.9 120.1 790.4 120"/>
<circle cx="761.2" cy="80.3" r="2.0" fill="#000"/>
<circle cx="763.3" cy="60.1" r="1.8" fill="#000"/>
<path fill="#000" stroke="#000" stroke-width="1.8" stroke-linejoin="round" d="M141.6 217.6C142 217.2 145.2 217.5 147 218C148.8 218.5 151.3 219.5 152.4 220.4C153.5 221.3 154 223 153.6 223.4C153.2 223.8 151.5 223.3 150 222.8C148.5 222.3 145.8 221.3 144.4 220.4C143 219.5 141.2 218 141.6 217.6Z"/>
<path fill="#000" stroke="#000" stroke-width="1.8" stroke-linejoin="round" d="M53.6 205.6C54.3 204.9 56.4 204.5 58 204.4C59.6 204.3 62.1 204.7 63 205.2C63.9 205.7 64.2 206.9 63.6 207.6C63 208.3 61.3 209 59.6 209.2C57.9 209.4 54.6 209.4 53.6 208.8C52.6 208.2 52.9 206.3 53.6 205.6Z"/>
<path fill="#000" stroke="#000" stroke-width="1.8" stroke-linejoin="round" d="M578 190.4C578.4 189.7 579.8 192.1 581 192.4C582.2 192.7 584 191.7 585 192C586 192.3 587 193.3 587.2 194C587.4 194.7 586.9 195.9 586 196.4C585.1 196.9 583.3 197.2 582 197.2C580.7 197.2 579.1 197.5 578.4 196.4C577.7 195.3 577.6 191.1 578 190.4Z"/>
</g>
<rect x="467.7" y="496.3" width="79.6" height="53" fill="none" stroke="#000" stroke-width="5.6"/>
</g>
<g stroke="#000" stroke-width="2.7" fill="none" stroke-linecap="square">
<path d="M54.6 391.5H789.3V588.7H54.6Z"/>
<path stroke-width="2.7" stroke-linecap="butt" d="M47.1 391.5H54.6M47.1 440.8H54.6M47.1 490.1H54.6M47.1 539.4H54.6M47.1 588.7H54.6M54.6 588.7V596.5M177 588.7V596.5M299.5 588.7V596.5M421.9 588.7V596.5M544.4 588.7V596.5M666.8 588.7V596.5M789.3 588.7V596.5"/>
</g>
<g stroke="#000" stroke-width="0.6" stroke-linejoin="round">
<text transform="translate(4.46 400.50) scale(0.8446 1.0000)" font-size="25.00" font-weight="bold" fill="#000">20S</text>
<text transform="translate(4.68 449.80) scale(0.8397 1.0000)" font-size="25.00" font-weight="bold" fill="#000">30S</text>
<text transform="translate(4.89 499.10) scale(0.8348 1.0000)" font-size="25.00" font-weight="bold" fill="#000">40S</text>
<text transform="translate(4.57 548.40) scale(0.8421 1.0000)" font-size="25.00" font-weight="bold" fill="#000">50S</text>
<text transform="translate(4.46 597.70) scale(0.8446 1.0000)" font-size="25.00" font-weight="bold" fill="#000">60S</text>
<text transform="translate(35.03 616.70) scale(0.7776 1.0000)" font-size="24.70" font-weight="bold" fill="#000">60W</text>
<text transform="translate(157.57 616.70) scale(0.7698 1.0000)" font-size="24.70" font-weight="bold" fill="#000">30W</text>
<text transform="translate(293.34 616.70) scale(0.9717 1.0000)" font-size="24.70" font-weight="bold" fill="#000">0</text>
<text transform="translate(404.18 616.70) scale(0.8380 1.0000)" font-size="24.70" font-weight="bold" fill="#000">30E</text>
<text transform="translate(526.69 616.70) scale(0.8216 1.0000)" font-size="24.70" font-weight="bold" fill="#000">60E</text>
<text transform="translate(648.67 616.70) scale(0.8430 1.0000)" font-size="24.70" font-weight="bold" fill="#000">90E</text>
<text transform="translate(765.75 616.70) scale(0.8459 1.0000)" font-size="24.70" font-weight="bold" fill="#000">120E</text>
</g>
<g stroke="#000" stroke-width="1.5" stroke-linejoin="miter">
<path fill="#0000ff" d="M143.4 630.6L87.6 641L143.4 651.3Z"/>
<rect fill="#4028f0" x="143.4" y="630.6" width="55.5" height="20.7"/>
<rect fill="#5050f0" x="198.9" y="630.6" width="55.5" height="20.7"/>
<rect fill="#6478f0" x="254.4" y="630.6" width="55.5" height="20.7"/>
<rect fill="#78a0f0" x="309.9" y="630.6" width="55.5" height="20.7"/>
<rect fill="#c8f0f0" x="365.4" y="630.6" width="55.5" height="20.7"/>
<rect fill="#f0f0c8" x="420.9" y="630.6" width="55.5" height="20.7"/>
<rect fill="#f0a078" x="476.4" y="630.6" width="55.5" height="20.7"/>
<rect fill="#f07864" x="531.9" y="630.6" width="55.5" height="20.7"/>
<rect fill="#f05050" x="587.4" y="630.6" width="55.5" height="20.7"/>
<rect fill="#f01414" x="642.9" y="630.6" width="55.5" height="20.7"/>
<path fill="#f00000" d="M698.4 630.6L755.7 641L698.4 651.3Z"/>
</g>
<g stroke="#000" stroke-width="0.5" stroke-linejoin="round">
<text transform="translate(130.94 669.60) scale(1.0684 1.0000)" font-size="20.20" font-weight="bold" fill="#000">−1</text>
<text transform="translate(177.81 669.60) scale(1.1018 1.0000)" font-size="20.20" font-weight="bold" fill="#000">−0.8</text>
<text transform="translate(233.31 669.60) scale(1.1047 1.0000)" font-size="20.20" font-weight="bold" fill="#000">−0.6</text>
<text transform="translate(288.82 669.60) scale(1.0876 1.0000)" font-size="20.20" font-weight="bold" fill="#000">−0.4</text>
<text transform="translate(344.31 669.60) scale(1.1077 1.0000)" font-size="20.20" font-weight="bold" fill="#000">−0.2</text>
<text transform="translate(415.07 669.60) scale(1.1464 1.0000)" font-size="20.20" font-weight="bold" fill="#000">0</text>
<text transform="translate(462.12 669.60) scale(1.0884 1.0000)" font-size="20.20" font-weight="bold" fill="#000">0.2</text>
<text transform="translate(517.64 669.60) scale(1.0600 1.0000)" font-size="20.20" font-weight="bold" fill="#000">0.4</text>
<text transform="translate(573.12 669.60) scale(1.0842 1.0000)" font-size="20.20" font-weight="bold" fill="#000">0.6</text>
<text transform="translate(628.63 669.60) scale(1.0801 1.0000)" font-size="20.20" font-weight="bold" fill="#000">0.8</text>
<text transform="translate(694.06 669.60) scale(0.7794 1.0000)" font-size="20.20" font-weight="bold" fill="#000">1</text>
</g>
<text transform="translate(50.83 378.60) scale(1.0335 1.0000)" font-size="35.00" font-weight="normal" fill="#000">(c)</text>
<g stroke="#000" stroke-width="0.9" stroke-linejoin="round">
<text transform="translate(0 374.80) scale(0.8171 1)" x="297.5 321.5 341.5" font-size="36.00" font-weight="normal" fill="#000">SLP</text>
<text transform="translate(0 374.80) scale(0.8468 1)" x="375.2 403.2 423.2" font-size="36.00" font-weight="normal" fill="#000">Obs</text>
<text transform="translate(0 374.80) scale(0.9826 1)" x="399.0 412.6 432.4 452.2 472.1 494.5 518.3 538.0 557.7 577.3 599.4" font-size="36.00" font-weight="normal" fill="#000">(2004−2008)</text>
</g>
</g>
<g id="panel-d">
<clipPath id="clip-d"><rect x="887" y="391.5" width="734.7" height="197.2"/></clipPath>
<g clip-path="url(#clip-d)">
<rect x="887" y="391.5" width="734.7" height="197.2" fill="#f0f0c8"/>
<path fill="#c8f0f0" d="M1055 382C1055 384 1053.3 391 1055 394C1056.7 397 1061.7 397.7 1065 400C1068.3 402.3 1072 405.3 1075 408C1078 410.7 1080.3 413 1083 416C1085.7 419 1088.7 422.7 1091 426C1093.3 429.3 1095.5 433 1097 436C1098.5 439 1100 441.3 1100 444C1100 446.7 1098.5 449.3 1097 452C1095.5 454.7 1092.8 457.7 1091 460C1089.2 462.3 1087 463.7 1086 466C1085 468.3 1085 471.3 1085 474C1085 476.7 1086.3 479.3 1086 482C1085.7 484.7 1084.8 487.7 1083 490C1081.2 492.3 1078 494.2 1075 496C1072 497.8 1068.3 499.5 1065 501C1061.7 502.5 1057.3 503.5 1055 505C1052.7 506.5 1051.5 507.8 1051 510C1050.5 512.2 1051.2 515.3 1052 518C1052.8 520.7 1054.2 523.8 1056 526C1057.8 528.2 1060.5 529.9 1063 531C1065.5 532.1 1068.3 532.6 1071 532.4C1073.7 532.2 1076.3 530.3 1079 529.6C1081.7 528.9 1084 527.9 1087 528C1090 528.1 1093.3 529.5 1097 530.4C1100.7 531.3 1104.7 532.9 1109 533.6C1113.3 534.3 1118.3 534.4 1123 534.4C1127.7 534.4 1132.7 533.2 1137 533.6C1141.3 534 1146 535.6 1149 537C1152 538.4 1154.3 540.2 1155 542C1155.7 543.8 1154.7 546 1153 548C1151.3 550 1148 552.3 1145 554C1142 555.7 1138.7 556.5 1135 558C1131.3 559.5 1126.7 561.3 1123 563C1119.3 564.7 1115.3 566.5 1113 568C1110.7 569.5 1109.3 570.3 1109 572C1108.7 573.7 1110 575.8 1111 578C1112 580.2 1114 583.2 1115 585C1116 586.8 1116.5 586.8 1117 589C1117.5 591.2 1117.8 596.5 1118 598L860 620L860 370Z"/>
<path fill="#f0f0c8" d="M873 510.4C875.7 510.3 885 510.3 889 510C893 509.7 893.7 508.4 897 508.4C900.3 508.4 905 509.4 909 510C913 510.6 917.3 511.2 921 512C924.7 512.8 928 513.7 931 515C934 516.3 936.3 518.2 939 520C941.7 521.8 944.7 523.7 947 526C949.3 528.3 951.2 531.3 953 534C954.8 536.7 956.5 539 958 542C959.5 545 961.2 548.7 962 552C962.8 555.3 962.7 558.7 963 562C963.3 565.3 963.3 569 964 572C964.7 575 965.5 577.7 967 580C968.5 582.3 971.3 584.5 973 586C974.7 587.5 976 587 977 589C978 591 978.7 596.5 979 598L860 620Z"/>
<path fill="#78a0f0" d="M966 470C966.3 467.3 966.8 463.3 968 460C969.2 456.7 970.8 452.8 973 450C975.2 447.2 978 444.5 981 443C984 441.5 987.3 441.3 991 441C994.7 440.7 999.3 440.6 1003 441.4C1006.7 442.2 1010.2 444.1 1013 446C1015.8 447.9 1018.3 450.5 1020 453C1021.7 455.5 1024.2 459.3 1023 461C1021.8 462.7 1016.3 462 1013 463C1009.7 464 1006 465.2 1003 467C1000 468.8 997.2 471.5 995 474C992.8 476.5 991.5 479.5 990 482C988.5 484.5 987.7 487.4 986 489C984.3 490.6 982.2 491.6 980 491.6C977.8 491.6 975 490.4 973 489C971 487.6 969.2 485.2 968 483C966.8 480.8 966.3 478.2 966 476C965.7 473.8 965.7 472.7 966 470Z"/>
<path fill="#c8f0f0" d="M1241 382C1241 384.2 1241.7 392.7 1241 395C1240.3 397.3 1239.3 395.2 1237 396C1234.7 396.8 1230 398.3 1227 400C1224 401.7 1220.8 403.7 1219 406C1217.2 408.3 1216.2 411 1216 414C1215.8 417 1217 420.7 1218 424C1219 427.3 1220.5 431 1222 434C1223.5 437 1224.8 440 1227 442C1229.2 444 1232.3 445.5 1235 446C1237.7 446.5 1240.7 445.8 1243 445C1245.3 444.2 1247.3 442.8 1249 441C1250.7 439.2 1251.8 436.5 1253 434C1254.2 431.5 1255.3 428.7 1256 426C1256.7 423.3 1256.5 420.7 1257 418C1257.5 415.3 1258 412.3 1259 410C1260 407.7 1261 405.5 1263 404C1265 402.5 1269.3 402.7 1271 401C1272.7 399.3 1272.7 397.2 1273 394C1273.3 390.8 1273 384 1273 382Z"/>
<path fill="#c8f0f0" d="M1280 382C1280 384 1279.8 390 1280 394C1280.2 398 1280.7 402.3 1281 406C1281.3 409.7 1281 413 1282 416C1283 419 1284.5 421.8 1287 424C1289.5 426.2 1293 427.7 1297 429C1301 430.3 1306.3 431.2 1311 432C1315.7 432.8 1320.3 433 1325 433.6C1329.7 434.2 1334.7 434.7 1339 435.6C1343.3 436.5 1347.7 437.6 1351 439C1354.3 440.4 1357 441.8 1359 444C1361 446.2 1362.3 449 1363 452C1363.7 455 1363.2 459 1363 462C1362.8 465 1362.7 466.7 1362 470C1361.3 473.3 1360.2 478.3 1359 482C1357.8 485.7 1356.3 488.7 1355 492C1353.7 495.3 1352.3 498.7 1351 502C1349.7 505.3 1348.7 508.7 1347 512C1345.3 515.3 1343.3 519 1341 522C1338.7 525 1336 527.7 1333 530C1330 532.3 1326.3 534.2 1323 536C1319.7 537.8 1316 539.3 1313 541C1310 542.7 1306.7 544.2 1305 546C1303.3 547.8 1302.3 550 1303 552C1303.7 554 1306.3 555.7 1309 558C1311.7 560.3 1315.7 563.3 1319 566C1322.3 568.7 1326 571.7 1329 574C1332 576.3 1334.7 578 1337 580C1339.3 582 1341.3 584.5 1343 586C1344.7 587.5 1346 587 1347 589C1348 591 1348.7 596.5 1349 598L1650 620L1650 370Z"/>
<path fill="#f0f0c8" d="M1367 382C1367 384 1366.3 390.7 1367 394C1367.7 397.3 1369.3 399.3 1371 402C1372.7 404.7 1375 407.3 1377 410C1379 412.7 1381 415.3 1383 418C1385 420.7 1387.7 423.3 1389 426C1390.3 428.7 1390 431.3 1391 434C1392 436.7 1393.3 439.7 1395 442C1396.7 444.3 1398.3 446.3 1401 448C1403.7 449.7 1407.3 450.2 1411 452C1414.7 453.8 1419 456.8 1423 459C1427 461.2 1430.7 463.3 1435 465C1439.3 466.7 1444.3 467.9 1449 469C1453.7 470.1 1458 470.9 1463 471.6C1468 472.3 1473.3 472.5 1479 473C1484.7 473.5 1491 473.9 1497 474.4C1503 474.9 1509 475.5 1515 476C1521 476.5 1527 477.2 1533 477.6C1539 478 1545 478.1 1551 478.4C1557 478.7 1563.3 479.1 1569 479.6C1574.7 480.1 1579.7 480.8 1585 481.6C1590.3 482.4 1596.3 483.5 1601 484.4C1605.7 485.3 1609.5 486.2 1613 487C1616.5 487.8 1618.7 488.3 1622 489C1625.3 489.7 1631.2 490.7 1633 491L1650 370Z"/>
<path fill="#78a0f0" d="M1633 528C1631.2 527.7 1626.3 526.9 1622 526C1617.7 525.1 1611.8 523.6 1607 522.4C1602.2 521.2 1597.7 520.1 1593 519C1588.3 517.9 1583.7 516.8 1579 516C1574.3 515.2 1569.7 514.9 1565 514.4C1560.3 513.9 1555.7 513.1 1551 513C1546.3 512.9 1541.7 513.3 1537 513.6C1532.3 513.9 1527.3 514.1 1523 515C1518.7 515.9 1515 517.5 1511 519C1507 520.5 1503 522.5 1499 524C1495 525.5 1491.3 526.9 1487 528C1482.7 529.1 1478 529.7 1473 530.4C1468 531.1 1462 531.6 1457 532C1452 532.4 1447 532.5 1443 533C1439 533.5 1435.5 533.8 1433 535C1430.5 536.2 1428.7 537.8 1428 540C1427.3 542.2 1428.2 545.5 1429 548C1429.8 550.5 1431 552.7 1433 555C1435 557.3 1438 559.5 1441 562C1444 564.5 1447.7 567.3 1451 570C1454.3 572.7 1458 575.7 1461 578C1464 580.3 1466.7 582.2 1469 584C1471.3 585.8 1473.3 586.7 1475 589C1476.7 591.3 1478.3 596.5 1479 598L1650 620Z"/>
<path fill="#6478f0" d="M1520 573C1519.7 570.5 1521.2 567.3 1523 565C1524.8 562.7 1527.7 560.6 1531 559C1534.3 557.4 1539 556.1 1543 555.6C1547 555.1 1551 555.3 1555 556C1559 556.7 1564 558.3 1567 560C1570 561.7 1572.5 563.8 1573 566C1573.5 568.2 1572 571 1570 573C1568 575 1564.5 576.7 1561 578C1557.5 579.3 1553.3 580.3 1549 581C1544.7 581.7 1539 582.6 1535 582.4C1531 582.2 1527.5 581.6 1525 580C1522.5 578.4 1520.3 575.5 1520 573Z"/>
<g transform="translate(833.7 341.5)">
<path fill="none" stroke="#000" stroke-width="3.3" stroke-linejoin="round" stroke-linecap="round" d="M134.3 48.8C134.2 49.1 134.3 49.7 133.9 50.7C133.5 51.6 132.5 53.1 132 54.5C131.5 55.8 131.5 57.7 130.8 58.9C130 60 128.3 60.6 127.6 61.4C126.9 62.2 127.3 63.4 126.3 63.9C125.4 64.4 123.4 64.3 121.9 64.5C120.5 64.8 118.8 64.7 117.5 65.2C116.2 65.7 115.5 66.8 114.4 67.4C113.2 68.1 111.8 68.3 110.6 69C109.3 69.6 108 70.5 106.8 71.5C105.6 72.4 104.4 73.5 103.3 74.6C102.2 75.8 100.9 77.1 100.2 78.4C99.6 79.8 99.6 81.3 99.5 82.8C99.4 84.4 99.6 86.4 99.5 87.9C99.3 89.3 99.2 90.5 98.6 91.7C98 92.8 96.8 93.8 96.1 94.8C95.3 95.9 94.7 96.8 94.2 98C93.7 99.1 93.5 100.5 92.9 101.7C92.3 103 91.5 104.4 90.6 105.5C89.8 106.7 88.9 107.7 87.9 108.7C86.9 109.6 85.6 110.3 84.7 111.2C83.9 112.2 83.6 113.3 82.8 114.4C82.1 115.4 81.1 116.5 80.3 117.5C79.5 118.6 78.9 119.8 78 120.7C77.2 121.5 76.6 122.2 75.3 122.6C74 122.9 71.9 123 70.2 122.9C68.5 122.9 66.8 122.4 65.2 122.2C63.6 121.9 61.1 121.1 60.8 121.3C60.4 121.5 62.7 122.4 63.3 123.2C63.9 124.1 64.4 125.4 64.5 126.4C64.7 127.3 63.6 128.2 63.9 128.9C64.2 129.7 65.9 130.1 66.4 130.8C67 131.5 67.3 132.4 67.1 133.3C66.9 134.3 65.8 135.4 65.2 136.5C64.5 137.5 64.3 138.8 63.3 139.6C62.2 140.5 60.3 141 58.9 141.5C57.4 142 55.7 142.3 54.5 142.5C53.2 142.8 51.8 143 51.3 143"/>
<circle cx="60.4" cy="120.1" r="2.1" fill="#000"/>
<path fill="none" stroke="#000" stroke-width="3.3" stroke-linejoin="round" stroke-linecap="round" d="M351.3 48.8C351.5 49.2 351.6 50.3 352 51.3C352.4 52.4 353.2 53.8 353.9 55.1C354.5 56.3 355.1 57.7 355.8 58.9C356.4 60 357.3 60.8 357.7 62C358 63.3 357.5 64.9 357.7 66.4C357.8 68 358.3 69.8 358.7 71.5C359 73.2 359.2 74.8 359.5 76.5C359.9 78.2 360.4 79.9 360.8 81.6C361.2 83.3 361.4 84.9 362.1 86.6C362.7 88.3 363.7 90.1 364.6 91.7C365.4 93.2 366.4 94.5 367.1 96.1C367.8 97.6 368.4 99.3 369 101.1C369.6 102.9 370.3 105.2 370.9 106.8C371.5 108.4 372.5 109.4 372.5 110.6C372.5 111.8 370.8 112.9 370.9 114.1C371 115.3 372.5 116.5 373 117.5C373.6 118.5 373.4 119.3 374 120C374.7 120.8 376.3 121.4 377.2 121.9C378.1 122.4 378.9 123 379.7 122.9C380.6 122.8 381.2 121.7 382.2 121.3C383.3 120.9 385 120.7 386 120.4C387.1 120.1 387.6 119.5 388.5 119.4C389.5 119.3 390.5 119.9 391.7 119.8C392.9 119.7 394.2 118.8 395.5 118.8C396.7 118.7 398 119.5 399.3 119.4C400.5 119.3 401.8 118.5 403.1 118.1C404.3 117.8 405.6 117.7 406.8 117.1C408.1 116.6 409.4 115.9 410.6 115C411.9 114.1 413.2 112.9 414.4 111.8C415.6 110.8 416.5 109.8 417.6 108.7C418.6 107.5 419.8 106.2 420.7 104.9C421.7 103.6 422.4 102.5 423.2 101.1C424.1 99.7 424.9 98.1 425.8 96.7C426.6 95.3 427.5 94.2 428.3 92.9C429 91.7 429.6 90.4 430.2 89.1C430.7 87.9 431.2 86.6 431.4 85.4C431.7 84.1 431.9 82.7 431.8 81.6C431.7 80.4 430.7 79.4 431 78.4C431.4 77.5 432.8 76.7 433.9 75.9C435.1 75.1 436.5 74.5 437.7 73.8C439 73 440.7 72.5 441.5 71.5C442.4 70.5 442.5 69 442.8 67.7C443 66.4 443.2 65.4 443.2 63.9C443.1 62.4 442.8 60.4 442.4 58.9C442 57.3 441.2 55.7 440.9 54.5C440.5 53.2 440.4 52.3 440.3 51.3C440.1 50.4 440 49.2 440 48.8"/>
<path fill="none" stroke="#000" stroke-width="3.3" stroke-linejoin="round" stroke-linecap="round" d="M479.3 48.8C479.2 49.2 479.1 50.3 478.7 51.3C478.3 52.4 477.5 53.7 476.8 55.1C476.1 56.5 475 58 474.7 59.5C474.3 61 474.4 62.5 474.7 63.9C474.9 65.3 475.8 66.4 476.2 67.7C476.5 69 476.4 70.2 476.8 71.5C477.2 72.7 477.9 74.3 478.7 75.3C479.6 76.3 480.8 77.4 481.9 77.5C482.9 77.7 484 76.7 485 76.3C486.1 75.9 487.2 76 488.2 75.3C489.1 74.6 490.1 73.4 490.7 72.1C491.3 70.9 491.5 69.3 492 67.7C492.4 66.1 492.7 64.3 493.2 62.7C493.7 61 494.3 59.5 494.9 57.6C495.4 55.7 496.1 52.8 496.4 51.3C496.7 49.8 496.7 49.2 496.7 48.8"/>
<circle cx="524.4" cy="55.4" r="2.3" fill="#000"/>
<circle cx="533.2" cy="51.6" r="2.0" fill="#000"/>
<path fill="none" stroke="#000" stroke-width="3.3" stroke-linejoin="round" stroke-linecap="round" d="M790.4 50C789.8 50.1 787.9 50.3 786.7 50.7C785.4 51.1 784.3 52 782.9 52.3C781.4 52.7 779.4 52.6 777.8 52.8C776.3 53.1 774.7 53.3 773.4 53.8C772.2 54.3 771.3 55.1 770.3 55.7C769.2 56.3 768.2 57 767.1 57.6C766.1 58.2 764.8 58.8 764 59.5C763.1 60.2 762.3 61.1 762.1 62C761.8 63 762.7 64.1 762.4 65.2C762.2 66.2 761.1 67.3 760.8 68.3C760.5 69.4 760.3 70.3 760.4 71.5C760.6 72.6 761.5 74 761.7 75.3C761.9 76.5 761.2 77.6 761.4 79C761.6 80.5 762.5 82.6 763 84.1C763.4 85.6 763.6 86.6 764 87.9C764.3 89.1 764.8 90.4 765.2 91.7C765.7 92.9 766.3 94.2 766.7 95.4C767.2 96.7 767.6 98 768 99.2C768.4 100.5 768.9 101.7 769.3 103C769.6 104.3 770 105.5 770.3 106.8C770.5 108.1 770.9 109.3 770.9 110.6C770.9 111.8 770.7 113.3 770.3 114.4C769.8 115.4 768.8 116 768.4 116.9C768 117.7 767.7 118.6 768 119.4C768.3 120.2 769.4 121.2 770.3 121.9C771.2 122.7 772.2 123.4 773.4 123.8C774.7 124.2 776.5 124.4 777.8 124.4C779.2 124.4 780.6 124.2 781.6 123.8C782.7 123.4 783.2 122.4 784.1 121.9C785.1 121.4 786.2 121 787.3 120.7C788.3 120.3 789.9 120.1 790.4 120"/>
<circle cx="761.2" cy="80.3" r="2.0" fill="#000"/>
<circle cx="763.3" cy="60.1" r="1.8" fill="#000"/>
<path fill="#000" stroke="#000" stroke-width="1.8" stroke-linejoin="round" d="M141.6 217.6C142 217.2 145.2 217.5 147 218C148.8 218.5 151.3 219.5 152.4 220.4C153.5 221.3 154 223 153.6 223.4C153.2 223.8 151.5 223.3 150 222.8C148.5 222.3 145.8 221.3 144.4 220.4C143 219.5 141.2 218 141.6 217.6Z"/>
<path fill="#000" stroke="#000" stroke-width="1.8" stroke-linejoin="round" d="M53.6 205.6C54.3 204.9 56.4 204.5 58 204.4C59.6 204.3 62.1 204.7 63 205.2C63.9 205.7 64.2 206.9 63.6 207.6C63 208.3 61.3 209 59.6 209.2C57.9 209.4 54.6 209.4 53.6 208.8C52.6 208.2 52.9 206.3 53.6 205.6Z"/>
<path fill="#000" stroke="#000" stroke-width="1.8" stroke-linejoin="round" d="M578 190.4C578.4 189.7 579.8 192.1 581 192.4C582.2 192.7 584 191.7 585 192C586 192.3 587 193.3 587.2 194C587.4 194.7 586.9 195.9 586 196.4C585.1 196.9 583.3 197.2 582 197.2C580.7 197.2 579.1 197.5 578.4 196.4C577.7 195.3 577.6 191.1 578 190.4Z"/>
</g>
<rect x="1301.7" y="496.3" width="79.6" height="53" fill="none" stroke="#000" stroke-width="5.6"/>
</g>
<g stroke="#000" stroke-width="2.7" fill="none" stroke-linecap="square">
<path d="M887 391.5H1621.7V588.7H887Z"/>
<path stroke-width="2.7" stroke-linecap="butt" d="M879.5 391.5H887M879.5 440.8H887M879.5 490.1H887M879.5 539.4H887M879.5 588.7H887M887 588.7V596.5M1009.5 588.7V596.5M1131.9 588.7V596.5M1254.4 588.7V596.5M1376.8 588.7V596.5M1499.2 588.7V596.5M1621.7 588.7V596.5"/>
</g>
<g stroke="#000" stroke-width="0.6" stroke-linejoin="round">
<text transform="translate(836.86 400.50) scale(0.8446 1.0000)" font-size="25.00" font-weight="bold" fill="#000">20S</text>
<text transform="translate(837.08 449.80) scale(0.8397 1.0000)" font-size="25.00" font-weight="bold" fill="#000">30S</text>
<text transform="translate(837.29 499.10) scale(0.8348 1.0000)" font-size="25.00" font-weight="bold" fill="#000">40S</text>
<text transform="translate(836.97 548.40) scale(0.8421 1.0000)" font-size="25.00" font-weight="bold" fill="#000">50S</text>
<text transform="translate(836.86 597.70) scale(0.8446 1.0000)" font-size="25.00" font-weight="bold" fill="#000">60S</text>
<text transform="translate(867.43 616.70) scale(0.7776 1.0000)" font-size="24.70" font-weight="bold" fill="#000">60W</text>
<text transform="translate(989.97 616.70) scale(0.7698 1.0000)" font-size="24.70" font-weight="bold" fill="#000">30W</text>
<text transform="translate(1125.74 616.70) scale(0.9717 1.0000)" font-size="24.70" font-weight="bold" fill="#000">0</text>
<text transform="translate(1236.58 616.70) scale(0.8380 1.0000)" font-size="24.70" font-weight="bold" fill="#000">30E</text>
<text transform="translate(1359.09 616.70) scale(0.8216 1.0000)" font-size="24.70" font-weight="bold" fill="#000">60E</text>
<text transform="translate(1481.07 616.70) scale(0.8430 1.0000)" font-size="24.70" font-weight="bold" fill="#000">90E</text>
<text transform="translate(1598.15 616.70) scale(0.8459 1.0000)" font-size="24.70" font-weight="bold" fill="#000">120E</text>
</g>
<g stroke="#000" stroke-width="1.5" stroke-linejoin="miter">
<path fill="#0000ff" d="M976.2 630.6L920.4 641L976.2 651.3Z"/>
<rect fill="#4028f0" x="976.2" y="630.6" width="55.5" height="20.7"/>
<rect fill="#5050f0" x="1031.7" y="630.6" width="55.5" height="20.7"/>
<rect fill="#6478f0" x="1087.2" y="630.6" width="55.5" height="20.7"/>
<rect fill="#78a0f0" x="1142.7" y="630.6" width="55.5" height="20.7"/>
<rect fill="#c8f0f0" x="1198.2" y="630.6" width="55.5" height="20.7"/>
<rect fill="#f0f0c8" x="1253.7" y="630.6" width="55.5" height="20.7"/>
<rect fill="#f0a078" x="1309.2" y="630.6" width="55.5" height="20.7"/>
<rect fill="#f07864" x="1364.7" y="630.6" width="55.5" height="20.7"/>
<rect fill="#f05050" x="1420.2" y="630.6" width="55.5" height="20.7"/>
<rect fill="#f01414" x="1475.7" y="630.6" width="55.5" height="20.7"/>
<path fill="#f00000" d="M1531.2 630.6L1588.5 641L1531.2 651.3Z"/>
</g>
<g stroke="#000" stroke-width="0.5" stroke-linejoin="round">
<text transform="translate(963.74 669.60) scale(1.0684 1.0000)" font-size="20.20" font-weight="bold" fill="#000">−1</text>
<text transform="translate(1010.61 669.60) scale(1.1018 1.0000)" font-size="20.20" font-weight="bold" fill="#000">−0.8</text>
<text transform="translate(1066.11 669.60) scale(1.1047 1.0000)" font-size="20.20" font-weight="bold" fill="#000">−0.6</text>
<text transform="translate(1121.62 669.60) scale(1.0876 1.0000)" font-size="20.20" font-weight="bold" fill="#000">−0.4</text>
<text transform="translate(1177.11 669.60) scale(1.1077 1.0000)" font-size="20.20" font-weight="bold" fill="#000">−0.2</text>
<text transform="translate(1247.87 669.60) scale(1.1464 1.0000)" font-size="20.20" font-weight="bold" fill="#000">0</text>
<text transform="translate(1294.92 669.60) scale(1.0884 1.0000)" font-size="20.20" font-weight="bold" fill="#000">0.2</text>
<text transform="translate(1350.44 669.60) scale(1.0600 1.0000)" font-size="20.20" font-weight="bold" fill="#000">0.4</text>
<text transform="translate(1405.92 669.60) scale(1.0842 1.0000)" font-size="20.20" font-weight="bold" fill="#000">0.6</text>
<text transform="translate(1461.43 669.60) scale(1.0801 1.0000)" font-size="20.20" font-weight="bold" fill="#000">0.8</text>
<text transform="translate(1526.86 669.60) scale(0.7794 1.0000)" font-size="20.20" font-weight="bold" fill="#000">1</text>
</g>
<text transform="translate(888.01 378.60) scale(1.0442 1.0000)" font-size="35.00" font-weight="normal" fill="#000">(d)</text>
<g stroke="#000" stroke-width="0.9" stroke-linejoin="round">
<text transform="translate(0 374.60) scale(0.8326 1)" x="1223.2 1247.2 1267.2" font-size="36.00" font-weight="normal" fill="#000">SLP</text>
<text transform="translate(0 374.60) scale(0.9152 1)" x="1192.5 1214.5" font-size="36.00" font-weight="normal" fill="#000">F2</text>
<text transform="translate(0 374.60) scale(0.8959 1)" x="1282.4 1303.4 1324.8 1356.3 1377.7" font-size="36.00" font-weight="normal" fill="#000">12mem</text>
<text transform="translate(0 374.60) scale(0.9727 1)" x="1317.4 1331.3 1351.1 1371.0 1390.8 1414.2 1437.5 1457.3 1477.2 1497.1 1520.0" font-size="36.00" font-weight="normal" fill="#000">(2004−2008)</text>
</g>
</g>
<text transform="translate(747.14 332.40) scale(0.9619 1.0000)" font-size="36.60" font-weight="normal" fill="#000">hPa</text>
</svg>
</body></html>
